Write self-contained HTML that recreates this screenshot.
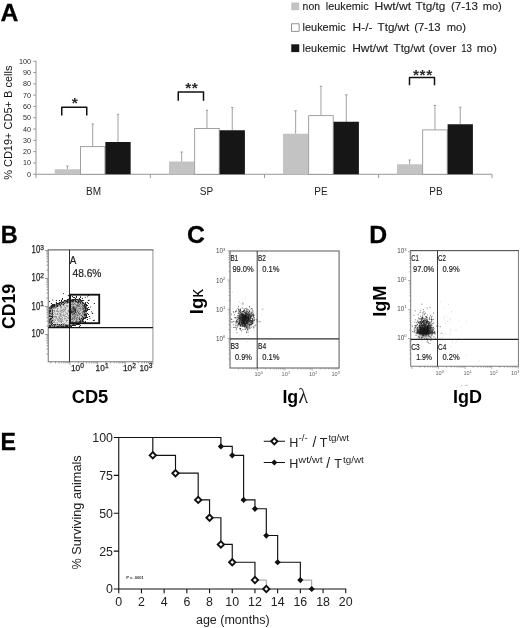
<!DOCTYPE html>
<html><head><meta charset="utf-8"><title>Figure</title>
<style>html,body{margin:0;padding:0;background:#fff}svg{display:block;opacity:0.999}</style>
</head><body>
<svg width="520" height="628" viewBox="0 0 520 628">
<rect width="520" height="628" fill="#fff"/>
<g id="panelA">
<text x="0.5" y="21" font-family="Liberation Sans, sans-serif" font-size="24.8" font-weight="bold" fill="#000" stroke="#000" stroke-width="0.3">A</text>
<path d="M36.0 61 V178 M36.0 174.25 H492" stroke="#969696" stroke-width="1" fill="none"/>
<path d="M33.3 174.25H36.0M33.3 162.95H36.0M33.3 151.65H36.0M33.3 140.35H36.0M33.3 129.05H36.0M33.3 117.75H36.0M33.3 106.45H36.0M33.3 95.15H36.0M33.3 83.85H36.0M33.3 72.55H36.0M33.3 61.25H36.0M150.3 174.25V178M264.5 174.25V178M378.6 174.25V178M492 174.25V178" stroke="#969696" stroke-width="1" fill="none"/>
<text x="31" y="176.75" font-family="Liberation Sans, sans-serif" font-size="7.2" text-anchor="end" fill="#2a2a2a">0</text>
<text x="31" y="165.45" font-family="Liberation Sans, sans-serif" font-size="7.2" text-anchor="end" fill="#2a2a2a">10</text>
<text x="31" y="154.15" font-family="Liberation Sans, sans-serif" font-size="7.2" text-anchor="end" fill="#2a2a2a">20</text>
<text x="31" y="142.85" font-family="Liberation Sans, sans-serif" font-size="7.2" text-anchor="end" fill="#2a2a2a">30</text>
<text x="31" y="131.55" font-family="Liberation Sans, sans-serif" font-size="7.2" text-anchor="end" fill="#2a2a2a">40</text>
<text x="31" y="120.25" font-family="Liberation Sans, sans-serif" font-size="7.2" text-anchor="end" fill="#2a2a2a">50</text>
<text x="31" y="108.95" font-family="Liberation Sans, sans-serif" font-size="7.2" text-anchor="end" fill="#2a2a2a">60</text>
<text x="31" y="97.65" font-family="Liberation Sans, sans-serif" font-size="7.2" text-anchor="end" fill="#2a2a2a">70</text>
<text x="31" y="86.35" font-family="Liberation Sans, sans-serif" font-size="7.2" text-anchor="end" fill="#2a2a2a">80</text>
<text x="31" y="75.05" font-family="Liberation Sans, sans-serif" font-size="7.2" text-anchor="end" fill="#2a2a2a">90</text>
<text x="31" y="63.75" font-family="Liberation Sans, sans-serif" font-size="7.2" text-anchor="end" fill="#2a2a2a">100</text>
<text transform="translate(11.6 122.7) rotate(-90)" font-family="Liberation Sans, sans-serif" font-size="11" text-anchor="middle" fill="#111">% CD19+ CD5+ B cells</text>
<path d="M67.40 169.25V166.0M66.20 166.0H68.60" stroke="#909090" stroke-width="0.85" fill="none"/>
<rect x="54.75" y="169.25" width="25.3" height="5.00" fill="#c3c3c3"/>
<path d="M92.70 146.25V124.0M91.50 124.0H93.90" stroke="#909090" stroke-width="0.85" fill="none"/>
<rect x="80.45" y="146.65" width="24.5" height="27.60" fill="#fff" stroke="#8a8a8a" stroke-width="0.8"/>
<path d="M118.00 142.0V114.25M116.80 114.25H119.20" stroke="#909090" stroke-width="0.85" fill="none"/>
<rect x="105.35" y="142.0" width="25.3" height="32.25" fill="#161616"/>
<path d="M181.65 161.5V152.0M180.45 152.0H182.85" stroke="#909090" stroke-width="0.85" fill="none"/>
<rect x="169.00" y="161.5" width="25.3" height="12.75" fill="#c3c3c3"/>
<path d="M206.95 128.0V110.25M205.75 110.25H208.15" stroke="#909090" stroke-width="0.85" fill="none"/>
<rect x="194.70" y="128.4" width="24.5" height="45.85" fill="#fff" stroke="#8a8a8a" stroke-width="0.8"/>
<path d="M232.25 130.25V107.5M231.05 107.5H233.45" stroke="#909090" stroke-width="0.85" fill="none"/>
<rect x="219.60" y="130.25" width="25.3" height="44.00" fill="#161616"/>
<path d="M295.65 133.75V110.75M294.45 110.75H296.85" stroke="#909090" stroke-width="0.85" fill="none"/>
<rect x="283.00" y="133.75" width="25.3" height="40.50" fill="#c3c3c3"/>
<path d="M320.95 115.25V86.25M319.75 86.25H322.15" stroke="#909090" stroke-width="0.85" fill="none"/>
<rect x="308.70" y="115.65" width="24.5" height="58.60" fill="#fff" stroke="#8a8a8a" stroke-width="0.8"/>
<path d="M346.25 121.75V94.75M345.05 94.75H347.45" stroke="#909090" stroke-width="0.85" fill="none"/>
<rect x="333.60" y="121.75" width="25.3" height="52.50" fill="#161616"/>
<path d="M409.65 164.25V160.0M408.45 160.0H410.85" stroke="#909090" stroke-width="0.85" fill="none"/>
<rect x="397.00" y="164.25" width="25.3" height="10.00" fill="#c3c3c3"/>
<path d="M434.95 129.5V105.5M433.75 105.5H436.15" stroke="#909090" stroke-width="0.85" fill="none"/>
<rect x="422.70" y="129.9" width="24.5" height="44.35" fill="#fff" stroke="#8a8a8a" stroke-width="0.8"/>
<path d="M460.25 124.25V107.25M459.05 107.25H461.45" stroke="#909090" stroke-width="0.85" fill="none"/>
<rect x="447.60" y="124.25" width="25.3" height="50.00" fill="#161616"/>
<path d="M61.75 115.5V107.3H86.75V115.5" stroke="#111" stroke-width="1.5" stroke-linejoin="round" fill="none"/>
<text x="75.15" y="108.4" font-family="Liberation Sans, sans-serif" font-size="15.5" font-weight="bold" letter-spacing="0.6" text-anchor="middle" fill="#2a2a2a">*</text>
<path d="M178.25 100.75V92.1H203.5V100.75" stroke="#111" stroke-width="1.5" stroke-linejoin="round" fill="none"/>
<text x="191.78" y="92.8" font-family="Liberation Sans, sans-serif" font-size="15.5" font-weight="bold" letter-spacing="0.6" text-anchor="middle" fill="#2a2a2a">**</text>
<path d="M409.5 85.25V77.6H434.5V85.25" stroke="#111" stroke-width="1.5" stroke-linejoin="round" fill="none"/>
<text x="422.90" y="79.8" font-family="Liberation Sans, sans-serif" font-size="15.5" font-weight="bold" letter-spacing="0.6" text-anchor="middle" fill="#2a2a2a">***</text>
<text x="93.5" y="195.2" font-family="Liberation Sans, sans-serif" font-size="10" text-anchor="middle" fill="#222">BM</text>
<text x="206.5" y="195.2" font-family="Liberation Sans, sans-serif" font-size="10" text-anchor="middle" fill="#222">SP</text>
<text x="321" y="195.2" font-family="Liberation Sans, sans-serif" font-size="10" text-anchor="middle" fill="#222">PE</text>
<text x="436" y="195.2" font-family="Liberation Sans, sans-serif" font-size="10" text-anchor="middle" fill="#222">PB</text>
<rect x="291.25" y="2.5" width="8" height="7.7" fill="#c3c3c3"/>
<rect x="291.6" y="23.8" width="7.5" height="7.5" fill="#fff" stroke="#777" stroke-width="0.8"/>
<rect x="291.25" y="44.3" width="8" height="7.8" fill="#161616"/>
<text x="302.6" y="10.2" font-family="Liberation Sans, sans-serif" font-size="10.6" fill="#222" stroke="#222" stroke-width="0.12" textLength="17.4" lengthAdjust="spacingAndGlyphs">non</text>
<text x="325.8" y="10.2" font-family="Liberation Sans, sans-serif" font-size="10.6" fill="#222" stroke="#222" stroke-width="0.12" textLength="42.8" lengthAdjust="spacingAndGlyphs">leukemic</text>
<text x="374.6" y="10.2" font-family="Liberation Sans, sans-serif" font-size="10.6" fill="#222" stroke="#222" stroke-width="0.12" textLength="36.6" lengthAdjust="spacingAndGlyphs">Hwt/wt</text>
<text x="415.4" y="10.2" font-family="Liberation Sans, sans-serif" font-size="10.6" fill="#222" stroke="#222" stroke-width="0.12" textLength="30.0" lengthAdjust="spacingAndGlyphs">Ttg/tg</text>
<text x="450.9" y="10.2" font-family="Liberation Sans, sans-serif" font-size="10.6" fill="#222" stroke="#222" stroke-width="0.12" textLength="26.9" lengthAdjust="spacingAndGlyphs">(7-13</text>
<text x="482.7" y="10.2" font-family="Liberation Sans, sans-serif" font-size="10.6" fill="#222" stroke="#222" stroke-width="0.12" textLength="19.1" lengthAdjust="spacingAndGlyphs">mo)</text>
<text x="302.6" y="31.2" font-family="Liberation Sans, sans-serif" font-size="10.6" fill="#222" stroke="#222" stroke-width="0.12" textLength="43.0" lengthAdjust="spacingAndGlyphs">leukemic</text>
<text x="352.6" y="31.2" font-family="Liberation Sans, sans-serif" font-size="10.6" fill="#222" stroke="#222" stroke-width="0.12" textLength="19.8" lengthAdjust="spacingAndGlyphs">H-/-</text>
<text x="377.6" y="31.2" font-family="Liberation Sans, sans-serif" font-size="10.6" fill="#222" stroke="#222" stroke-width="0.12" textLength="31.6" lengthAdjust="spacingAndGlyphs">Ttg/wt</text>
<text x="414.3" y="31.2" font-family="Liberation Sans, sans-serif" font-size="10.6" fill="#222" stroke="#222" stroke-width="0.12" textLength="26.3" lengthAdjust="spacingAndGlyphs">(7-13</text>
<text x="446.7" y="31.2" font-family="Liberation Sans, sans-serif" font-size="10.6" fill="#222" stroke="#222" stroke-width="0.12" textLength="19.3" lengthAdjust="spacingAndGlyphs">mo)</text>
<text x="302.6" y="52.0" font-family="Liberation Sans, sans-serif" font-size="10.6" fill="#222" stroke="#222" stroke-width="0.12" textLength="43.0" lengthAdjust="spacingAndGlyphs">leukemic</text>
<text x="352.2" y="52.0" font-family="Liberation Sans, sans-serif" font-size="10.6" fill="#222" stroke="#222" stroke-width="0.12" textLength="36.0" lengthAdjust="spacingAndGlyphs">Hwt/wt</text>
<text x="393.6" y="52.0" font-family="Liberation Sans, sans-serif" font-size="10.6" fill="#222" stroke="#222" stroke-width="0.12" textLength="31.4" lengthAdjust="spacingAndGlyphs">Ttg/wt</text>
<text x="428.8" y="52.0" font-family="Liberation Sans, sans-serif" font-size="10.6" fill="#222" stroke="#222" stroke-width="0.12" textLength="27.4" lengthAdjust="spacingAndGlyphs">(over</text>
<text x="461.2" y="52.0" font-family="Liberation Sans, sans-serif" font-size="10.6" fill="#222" stroke="#222" stroke-width="0.12" textLength="10.8" lengthAdjust="spacingAndGlyphs">13</text>
<text x="476.8" y="52.0" font-family="Liberation Sans, sans-serif" font-size="10.6" fill="#222" stroke="#222" stroke-width="0.12" textLength="20.2" lengthAdjust="spacingAndGlyphs">mo)</text>
</g>
<g id="panelB">
<text x="0.8" y="243.4" font-family="Liberation Sans, sans-serif" font-size="24.8" font-weight="bold" fill="#000" stroke="#000" stroke-width="0.3" textLength="17" lengthAdjust="spacingAndGlyphs">B</text>
<path d="M152.9 249.9V361.75" stroke="#a4a4a4" stroke-width="1.2" fill="none"/>
<path d="M48.25 249.9V361.75H152.9" stroke="#7d7d7d" stroke-width="1.1" fill="none"/>
<path d="M47.75 249.9H153.5" stroke="#6c6c6c" stroke-width="1.3" fill="none"/>
<path d="M48.25 354.07h-1.8M48.25 349.14h-1.8M48.25 345.64h-1.8M48.25 342.93h-1.8M48.25 340.71h-1.8M48.25 338.84h-1.8M48.25 337.21h-1.8M48.25 335.78h-1.8M48.25 334.50h-3.2M48.25 326.07h-1.8M48.25 321.14h-1.8M48.25 317.64h-1.8M48.25 314.93h-1.8M48.25 312.71h-1.8M48.25 310.84h-1.8M48.25 309.21h-1.8M48.25 307.78h-1.8M48.25 306.50h-3.2M48.25 298.07h-1.8M48.25 293.14h-1.8M48.25 289.64h-1.8M48.25 286.93h-1.8M48.25 284.71h-1.8M48.25 282.84h-1.8M48.25 281.21h-1.8M48.25 279.78h-1.8M48.25 278.50h-3.2M48.25 270.07h-1.8M48.25 265.14h-1.8M48.25 261.64h-1.8M48.25 258.93h-1.8M48.25 256.71h-1.8M48.25 254.84h-1.8M48.25 253.21h-1.8M48.25 251.78h-1.8M48.25 250.50h-3.2M50.71 361.75v1.6M55.57 361.75v1.6M59.02 361.75v1.6M61.69 361.75v1.6M63.88 361.75v1.6M65.72 361.75v1.6M67.33 361.75v1.6M68.74 361.75v1.6M70.00 361.75v2.9M78.31 361.75v1.6M83.17 361.75v1.6M86.62 361.75v1.6M89.29 361.75v1.6M91.48 361.75v1.6M93.32 361.75v1.6M94.93 361.75v1.6M96.34 361.75v1.6M97.60 361.75v2.9M105.91 361.75v1.6M110.77 361.75v1.6M114.22 361.75v1.6M116.89 361.75v1.6M119.08 361.75v1.6M120.92 361.75v1.6M122.53 361.75v1.6M123.94 361.75v1.6M125.20 361.75v2.9M133.51 361.75v1.6M138.37 361.75v1.6M141.82 361.75v1.6M144.49 361.75v1.6M146.68 361.75v1.6M148.52 361.75v1.6M150.13 361.75v1.6M151.54 361.75v1.6M152.80 361.75v2.9" stroke="#7d7d7d" stroke-width="0.8" fill="none"/>
<defs><filter id="softB" x="-5%" y="-5%" width="110%" height="110%"><feGaussianBlur stdDeviation="0.4"/></filter><clipPath id="clipB"><rect x="48.8" y="285" width="60" height="42.4"/></clipPath></defs>
<g clip-path="url(#clipB)"><g filter="url(#softB)">
<path d="M68.9 303.5h1.0M64.9 304.5h1.0M66.9 304.5h1.0M67.9 304.5h1.0M64.9 306.5h1.0M68.9 306.5h1.0M56.9 307.5h1.0M65.9 307.5h1.0M55.9 308.5h1.0M58.9 308.5h1.0M52.9 309.5h1.0M55.9 309.5h1.0M57.9 309.5h1.0M65.9 309.5h1.0M66.9 309.5h1.0M54.9 310.5h1.0M57.9 310.5h1.0M52.9 311.5h1.0M65.9 311.5h1.0M53.9 312.5h1.0M55.9 312.5h1.0M63.9 312.5h1.0M57.9 313.5h1.0M67.9 313.5h1.0M53.9 314.5h1.0M65.9 314.5h1.0M67.9 314.5h1.0M53.9 315.5h1.0M56.9 315.5h1.0M57.9 315.5h1.0M64.9 315.5h1.0M65.9 315.5h1.0M56.9 316.5h1.0M61.9 316.5h1.0M66.9 316.5h1.0M68.9 316.5h1.0M60.9 317.5h1.0M62.9 317.5h1.0M64.9 317.5h1.0M65.9 317.5h1.0M53.9 318.5h1.0M61.9 318.5h1.0M62.9 319.5h1.0M64.9 319.5h1.0M67.9 319.5h1.0M55.9 320.5h1.0M62.9 320.5h1.0M68.9 320.5h1.0M54.9 321.5h1.0M55.9 321.5h1.0M56.9 321.5h1.0M63.9 321.5h1.0M64.9 321.5h1.0M66.9 321.5h1.0M57.9 322.5h1.0M61.9 322.5h1.0M63.9 322.5h1.0M65.9 322.5h1.0M52.9 323.5h1.0M55.9 323.5h1.0M58.9 323.5h1.0M59.9 323.5h1.0M60.9 323.5h1.0M64.9 323.5h1.0M66.9 323.5h1.0M68.9 323.5h1.0" stroke="#ebebeb" stroke-width="1.0" fill="none"/>
<path d="M67.9 303.5h1.0M68.9 304.5h1.0M60.9 305.5h1.0M64.9 305.5h1.0M68.9 305.5h1.0M58.9 306.5h1.0M61.9 306.5h1.0M62.9 306.5h1.0M57.9 307.5h1.0M58.9 307.5h1.0M61.9 307.5h1.0M62.9 307.5h1.0M66.9 307.5h1.0M68.9 307.5h1.0M61.9 308.5h1.0M63.9 308.5h1.0M65.9 308.5h1.0M66.9 308.5h1.0M67.9 308.5h1.0M68.9 308.5h1.0M54.9 309.5h1.0M58.9 309.5h1.0M58.9 310.5h1.0M62.9 310.5h1.0M64.9 310.5h1.0M65.9 310.5h1.0M66.9 310.5h1.0M54.9 311.5h1.0M56.9 312.5h1.0M58.9 312.5h1.0M52.9 313.5h1.0M55.9 313.5h1.0M60.9 313.5h1.0M61.9 313.5h1.0M63.9 313.5h1.0M64.9 313.5h1.0M61.9 314.5h1.0M63.9 314.5h1.0M55.9 315.5h1.0M66.9 315.5h1.0M68.9 315.5h1.0M62.9 316.5h1.0M52.9 317.5h1.0M56.9 317.5h1.0M59.9 317.5h1.0M54.9 318.5h1.0M62.9 318.5h1.0M66.9 318.5h1.0M55.9 319.5h1.0M58.9 319.5h1.0M66.9 319.5h1.0M53.9 320.5h1.0M63.9 320.5h1.0M64.9 320.5h1.0M67.9 320.5h1.0M52.9 321.5h1.0M67.9 321.5h1.0M58.9 322.5h1.0M62.9 322.5h1.0M66.9 322.5h1.0M53.9 323.5h1.0M54.9 323.5h1.0M57.9 323.5h1.0M67.9 323.5h1.0" stroke="#d7d7d7" stroke-width="1.0" fill="none"/>
<path d="M70.9 303.5h1.0M72.9 303.5h1.0M75.9 303.5h1.0M78.9 303.5h1.0M80.9 305.5h1.0M77.9 307.5h1.0M78.9 307.5h1.0M80.9 307.5h1.0M76.9 308.5h1.0M78.9 309.5h1.0M80.9 310.5h1.0M81.9 310.5h1.0M79.9 311.5h1.0M80.9 311.5h1.0M79.9 312.5h1.0M80.9 313.5h1.0M77.9 314.5h1.0M80.9 314.5h1.0M78.9 315.5h1.0M77.9 316.5h1.0M79.9 316.5h1.0M80.9 316.5h1.0M69.9 317.5h1.0M70.9 317.5h1.0M77.9 317.5h1.0M79.9 317.5h1.0M76.9 318.5h1.0M74.9 319.5h1.0M77.9 319.5h1.0M71.9 320.5h1.0M73.9 320.5h1.0M73.9 321.5h1.0M69.9 322.5h1.0" stroke="#c8c8c8" stroke-width="1.0" fill="none"/>
<path d="M63.9 304.5h1.0M65.9 304.5h1.0M61.9 305.5h1.0M63.9 305.5h1.0M67.9 305.5h1.0M67.9 306.5h1.0M63.9 307.5h1.0M67.9 307.5h1.0M57.9 308.5h1.0M59.9 308.5h1.0M60.9 308.5h1.0M62.9 308.5h1.0M53.9 309.5h1.0M59.9 309.5h1.0M60.9 309.5h1.0M61.9 309.5h1.0M67.9 309.5h1.0M58.9 311.5h1.0M61.9 311.5h1.0M63.9 311.5h1.0M64.9 311.5h1.0M66.9 311.5h1.0M54.9 312.5h1.0M57.9 312.5h1.0M59.9 312.5h1.0M62.9 312.5h1.0M65.9 312.5h1.0M66.9 312.5h1.0M67.9 312.5h1.0M68.9 312.5h1.0M54.9 313.5h1.0M62.9 313.5h1.0M55.9 314.5h1.0M58.9 314.5h1.0M68.9 314.5h1.0M52.9 315.5h1.0M54.9 315.5h1.0M60.9 315.5h1.0M58.9 316.5h1.0M63.9 316.5h1.0M67.9 316.5h1.0M57.9 317.5h1.0M63.9 317.5h1.0M68.9 317.5h1.0M55.9 318.5h1.0M57.9 318.5h1.0M65.9 318.5h1.0M68.9 318.5h1.0M53.9 319.5h1.0M60.9 319.5h1.0M65.9 319.5h1.0M59.9 320.5h1.0M58.9 321.5h1.0M61.9 321.5h1.0M54.9 322.5h1.0M56.9 322.5h1.0M64.9 322.5h1.0M67.9 322.5h1.0M68.9 322.5h1.0M62.9 323.5h1.0M65.9 323.5h1.0" stroke="#c3c3c3" stroke-width="1.0" fill="none"/>
<path d="M70.9 305.5h1.0M72.9 305.5h1.0M73.9 305.5h1.0M74.9 305.5h1.0M74.9 306.5h1.0M70.9 307.5h1.0M69.9 313.5h1.0M74.9 313.5h1.0M70.9 314.5h1.0M70.9 315.5h1.0M72.9 315.5h1.0M71.9 316.5h1.0" stroke="#bebebe" stroke-width="1.0" fill="none"/>
<path d="M73.9 301.5h1.0M65.9 302.5h1.0M73.9 302.5h1.0M80.9 302.5h1.0M64.9 303.5h1.0M74.9 303.5h1.0M80.9 303.5h1.0M75.9 304.5h1.0M79.9 304.5h1.0M82.9 304.5h1.0M58.9 305.5h1.0M69.9 305.5h1.0M57.9 306.5h1.0M79.9 306.5h1.0M76.9 307.5h1.0M51.9 308.5h1.0M80.9 308.5h1.0M77.9 309.5h1.0M80.9 309.5h1.0M50.9 310.5h1.0M78.9 310.5h1.0M50.9 311.5h1.0M77.9 311.5h1.0M50.9 312.5h1.0M76.9 312.5h1.0M78.9 312.5h1.0M76.9 313.5h1.0M49.9 314.5h1.0M50.9 315.5h1.0M75.9 315.5h1.0M81.9 315.5h1.0M82.9 315.5h1.0M69.9 316.5h1.0M75.9 316.5h1.0M76.9 316.5h1.0M82.9 316.5h1.0M48.9 317.5h1.0M49.9 317.5h1.0M72.9 317.5h1.0M74.9 317.5h1.0M80.9 317.5h1.0M48.9 318.5h1.0M51.9 318.5h1.0M70.9 318.5h1.0M79.9 318.5h1.0M51.9 319.5h1.0M72.9 319.5h1.0M70.9 320.5h1.0M74.9 320.5h1.0M76.9 320.5h1.0M77.9 320.5h1.0M78.9 320.5h1.0M69.9 321.5h1.0M77.9 321.5h1.0M70.9 322.5h1.0M76.9 322.5h1.0M69.9 323.5h1.0M72.9 323.5h1.0M73.9 323.5h1.0M48.9 324.5h1.0M51.9 324.5h1.0M55.9 324.5h1.0M59.9 324.5h1.0M61.9 324.5h1.0M63.9 324.5h1.0M66.9 324.5h1.0M70.9 324.5h1.0M56.9 325.5h1.0" stroke="#afafaf" stroke-width="1.0" fill="none"/>
<path d="M66.9 305.5h1.0M63.9 306.5h1.0M65.9 306.5h1.0M59.9 307.5h1.0M53.9 308.5h1.0M54.9 308.5h1.0M63.9 309.5h1.0M55.9 310.5h1.0M56.9 310.5h1.0M59.9 310.5h1.0M55.9 311.5h1.0M59.9 311.5h1.0M60.9 311.5h1.0M52.9 312.5h1.0M60.9 312.5h1.0M61.9 312.5h1.0M64.9 312.5h1.0M53.9 313.5h1.0M58.9 313.5h1.0M65.9 313.5h1.0M54.9 314.5h1.0M57.9 314.5h1.0M60.9 314.5h1.0M62.9 314.5h1.0M64.9 314.5h1.0M58.9 315.5h1.0M61.9 315.5h1.0M57.9 316.5h1.0M59.9 316.5h1.0M53.9 317.5h1.0M54.9 317.5h1.0M66.9 317.5h1.0M56.9 318.5h1.0M63.9 318.5h1.0M52.9 319.5h1.0M54.9 319.5h1.0M56.9 319.5h1.0M63.9 319.5h1.0M68.9 319.5h1.0M56.9 320.5h1.0M57.9 320.5h1.0M58.9 320.5h1.0M61.9 320.5h1.0M62.9 321.5h1.0M68.9 321.5h1.0M53.9 322.5h1.0M55.9 322.5h1.0M59.9 322.5h1.0M56.9 323.5h1.0" stroke="#aaaaaa" stroke-width="1.0" fill="none"/>
<path d="M73.9 304.5h1.0M71.9 305.5h1.0M69.9 306.5h1.0M69.9 309.5h1.0M75.9 309.5h1.0M69.9 310.5h1.0M75.9 311.5h1.0" stroke="#a0a0a0" stroke-width="1.0" fill="none"/>
<path d="M74.9 302.5h1.0M75.9 302.5h1.0M76.9 303.5h1.0M69.9 304.5h1.0M77.9 304.5h1.0M78.9 305.5h1.0M79.9 305.5h1.0M81.9 306.5h1.0M79.9 307.5h1.0M76.9 309.5h1.0M79.9 309.5h1.0M77.9 310.5h1.0M80.9 312.5h1.0M79.9 314.5h1.0M81.9 314.5h1.0M79.9 315.5h1.0M70.9 316.5h1.0M78.9 316.5h1.0M70.9 321.5h1.0M72.9 321.5h1.0" stroke="#969696" stroke-width="1.0" fill="none"/>
<path d="M68.9 299.5h1.0M69.9 299.5h1.0M70.9 299.5h1.0M75.9 300.5h1.0M76.9 300.5h1.0M61.9 301.5h1.0M68.9 301.5h1.0M76.9 301.5h1.0M81.9 301.5h1.0M63.9 302.5h1.0M68.9 302.5h1.0M70.9 302.5h1.0M71.9 302.5h1.0M82.9 302.5h1.0M59.9 303.5h1.0M61.9 303.5h1.0M62.9 303.5h1.0M65.9 303.5h1.0M66.9 303.5h1.0M83.9 303.5h1.0M54.9 304.5h1.0M61.9 304.5h1.0M80.9 304.5h1.0M62.9 305.5h1.0M65.9 305.5h1.0M54.9 306.5h1.0M59.9 306.5h1.0M60.9 306.5h1.0M66.9 306.5h1.0M55.9 307.5h1.0M60.9 307.5h1.0M64.9 307.5h1.0M82.9 307.5h1.0M56.9 308.5h1.0M64.9 308.5h1.0M48.9 309.5h1.0M50.9 309.5h1.0M56.9 309.5h1.0M62.9 309.5h1.0M64.9 309.5h1.0M68.9 309.5h1.0M83.9 309.5h1.0M85.9 309.5h1.0M52.9 310.5h1.0M53.9 310.5h1.0M60.9 310.5h1.0M61.9 310.5h1.0M63.9 310.5h1.0M67.9 310.5h1.0M53.9 311.5h1.0M56.9 311.5h1.0M57.9 311.5h1.0M62.9 311.5h1.0M67.9 311.5h1.0M68.9 311.5h1.0M49.9 312.5h1.0M82.9 312.5h1.0M84.9 312.5h1.0M85.9 312.5h1.0M50.9 313.5h1.0M56.9 313.5h1.0M59.9 313.5h1.0M66.9 313.5h1.0M68.9 313.5h1.0M82.9 313.5h1.0M85.9 313.5h1.0M48.9 314.5h1.0M52.9 314.5h1.0M56.9 314.5h1.0M59.9 314.5h1.0M66.9 314.5h1.0M59.9 315.5h1.0M62.9 315.5h1.0M63.9 315.5h1.0M67.9 315.5h1.0M52.9 316.5h1.0M53.9 316.5h1.0M54.9 316.5h1.0M55.9 316.5h1.0M60.9 316.5h1.0M64.9 316.5h1.0M65.9 316.5h1.0M83.9 316.5h1.0M50.9 317.5h1.0M55.9 317.5h1.0M58.9 317.5h1.0M61.9 317.5h1.0M67.9 317.5h1.0M52.9 318.5h1.0M58.9 318.5h1.0M59.9 318.5h1.0M60.9 318.5h1.0M64.9 318.5h1.0M67.9 318.5h1.0M50.9 319.5h1.0M57.9 319.5h1.0M59.9 319.5h1.0M61.9 319.5h1.0M80.9 319.5h1.0M50.9 320.5h1.0M52.9 320.5h1.0M54.9 320.5h1.0M60.9 320.5h1.0M65.9 320.5h1.0M66.9 320.5h1.0M80.9 320.5h1.0M82.9 320.5h1.0M49.9 321.5h1.0M51.9 321.5h1.0M53.9 321.5h1.0M57.9 321.5h1.0M59.9 321.5h1.0M60.9 321.5h1.0M65.9 321.5h1.0M51.9 322.5h1.0M52.9 322.5h1.0M60.9 322.5h1.0M72.9 322.5h1.0M75.9 322.5h1.0M78.9 322.5h1.0M48.9 323.5h1.0M61.9 323.5h1.0M63.9 323.5h1.0M76.9 323.5h1.0M78.9 323.5h1.0M49.9 324.5h1.0M57.9 324.5h1.0M65.9 324.5h1.0M67.9 324.5h1.0M69.9 324.5h1.0M52.9 325.5h1.0M55.9 325.5h1.0M57.9 325.5h1.0M61.9 325.5h1.0M63.9 325.5h1.0M68.9 325.5h1.0M50.9 326.5h1.0M52.9 326.5h1.0M54.9 326.5h1.0" stroke="#8c8c8c" stroke-width="1.0" fill="none"/>
<path d="M71.9 304.5h1.0M70.9 306.5h1.0M71.9 306.5h1.0M73.9 306.5h1.0M75.9 306.5h1.0M69.9 307.5h1.0M74.9 307.5h1.0M75.9 310.5h1.0M76.9 310.5h1.0M75.9 313.5h1.0M69.9 314.5h1.0M73.9 314.5h1.0M75.9 314.5h1.0M73.9 315.5h1.0M74.9 315.5h1.0M72.9 316.5h1.0" stroke="#828282" stroke-width="1.0" fill="none"/>
<path d="M72.9 302.5h1.0M71.9 303.5h1.0M70.9 304.5h1.0M74.9 304.5h1.0M76.9 304.5h1.0M76.9 306.5h1.0M80.9 306.5h1.0M71.9 307.5h1.0M70.9 308.5h1.0M71.9 308.5h1.0M77.9 308.5h1.0M81.9 308.5h1.0M70.9 309.5h1.0M82.9 309.5h1.0M71.9 310.5h1.0M79.9 310.5h1.0M78.9 311.5h1.0M81.9 311.5h1.0M73.9 312.5h1.0M81.9 312.5h1.0M71.9 313.5h1.0M77.9 313.5h1.0M79.9 313.5h1.0M81.9 313.5h1.0M76.9 314.5h1.0M77.9 315.5h1.0M74.9 316.5h1.0M71.9 317.5h1.0M75.9 317.5h1.0M71.9 318.5h1.0M73.9 318.5h1.0M74.9 318.5h1.0M75.9 318.5h1.0M77.9 318.5h1.0M69.9 319.5h1.0M70.9 319.5h1.0M73.9 319.5h1.0M75.9 319.5h1.0M76.9 319.5h1.0M72.9 320.5h1.0M74.9 321.5h1.0" stroke="#787878" stroke-width="1.0" fill="none"/>
<path d="M73.9 300.5h1.0M78.9 302.5h1.0M59.9 304.5h1.0M60.9 304.5h1.0M72.9 304.5h1.0M81.9 304.5h1.0M55.9 305.5h1.0M57.9 305.5h1.0M81.9 305.5h1.0M82.9 305.5h1.0M82.9 306.5h1.0M52.9 307.5h1.0M53.9 307.5h1.0M54.9 307.5h1.0M75.9 307.5h1.0M52.9 308.5h1.0M69.9 308.5h1.0M75.9 308.5h1.0M83.9 308.5h1.0M49.9 309.5h1.0M51.9 309.5h1.0M68.9 310.5h1.0M69.9 311.5h1.0M69.9 312.5h1.0M75.9 312.5h1.0M70.9 313.5h1.0M83.9 313.5h1.0M50.9 314.5h1.0M51.9 314.5h1.0M71.9 314.5h1.0M74.9 314.5h1.0M82.9 314.5h1.0M49.9 315.5h1.0M71.9 315.5h1.0M73.9 316.5h1.0M81.9 317.5h1.0M81.9 318.5h1.0M79.9 319.5h1.0M49.9 320.5h1.0M76.9 321.5h1.0M49.9 322.5h1.0M73.9 322.5h1.0M74.9 322.5h1.0M49.9 323.5h1.0M50.9 323.5h1.0M64.9 324.5h1.0M71.9 324.5h1.0M50.9 325.5h1.0M54.9 325.5h1.0M60.9 325.5h1.0M62.9 325.5h1.0M67.9 325.5h1.0" stroke="#646464" stroke-width="1.0" fill="none"/>
<path d="M77.9 299.5h1.0M65.9 300.5h1.0M67.9 300.5h1.0M78.9 300.5h1.0M62.9 301.5h1.0M63.9 301.5h1.0M64.9 301.5h1.0M67.9 301.5h1.0M79.9 301.5h1.0M60.9 302.5h1.0M69.9 303.5h1.0M73.9 303.5h1.0M77.9 303.5h1.0M56.9 304.5h1.0M57.9 304.5h1.0M78.9 304.5h1.0M54.9 305.5h1.0M75.9 305.5h1.0M76.9 305.5h1.0M77.9 305.5h1.0M84.9 305.5h1.0M49.9 306.5h1.0M77.9 306.5h1.0M78.9 306.5h1.0M85.9 306.5h1.0M49.9 307.5h1.0M73.9 307.5h1.0M81.9 307.5h1.0M85.9 307.5h1.0M74.9 308.5h1.0M78.9 308.5h1.0M79.9 308.5h1.0M71.9 309.5h1.0M81.9 309.5h1.0M70.9 310.5h1.0M72.9 310.5h1.0M82.9 310.5h1.0M73.9 311.5h1.0M76.9 311.5h1.0M72.9 312.5h1.0M77.9 312.5h1.0M72.9 313.5h1.0M78.9 313.5h1.0M84.9 313.5h1.0M72.9 314.5h1.0M78.9 314.5h1.0M69.9 315.5h1.0M76.9 315.5h1.0M80.9 315.5h1.0M84.9 316.5h1.0M73.9 317.5h1.0M76.9 317.5h1.0M78.9 317.5h1.0M83.9 317.5h1.0M69.9 318.5h1.0M72.9 318.5h1.0M78.9 318.5h1.0M71.9 319.5h1.0M69.9 320.5h1.0M75.9 320.5h1.0M71.9 321.5h1.0M80.9 321.5h1.0M71.9 322.5h1.0M75.9 323.5h1.0M77.9 323.5h1.0M73.9 324.5h1.0M74.9 324.5h1.0M70.9 325.5h1.0M51.9 326.5h1.0M55.9 326.5h1.0M58.9 326.5h1.0M59.9 326.5h1.0M63.9 326.5h1.0M67.9 326.5h1.0" stroke="#5a5a5a" stroke-width="1.0" fill="none"/>
<path d="M72.9 306.5h1.0M73.9 308.5h1.0M72.9 309.5h1.0M73.9 310.5h1.0M71.9 311.5h1.0M71.9 312.5h1.0" stroke="#3c3c3c" stroke-width="1.0" fill="none"/>
<path d="M70.9 301.5h1.0M78.9 301.5h1.0M64.9 302.5h1.0M67.9 302.5h1.0M69.9 302.5h1.0M77.9 302.5h1.0M63.9 303.5h1.0M79.9 303.5h1.0M81.9 303.5h1.0M55.9 306.5h1.0M48.9 307.5h1.0M51.9 307.5h1.0M83.9 307.5h1.0M48.9 308.5h1.0M49.9 308.5h1.0M82.9 308.5h1.0M48.9 310.5h1.0M51.9 310.5h1.0M83.9 310.5h1.0M51.9 311.5h1.0M82.9 311.5h1.0M83.9 311.5h1.0M48.9 312.5h1.0M51.9 312.5h1.0M83.9 312.5h1.0M48.9 313.5h1.0M49.9 313.5h1.0M48.9 315.5h1.0M51.9 315.5h1.0M49.9 316.5h1.0M48.9 319.5h1.0M48.9 320.5h1.0M48.9 321.5h1.0M75.9 321.5h1.0M70.9 323.5h1.0M52.9 324.5h1.0M53.9 324.5h1.0M56.9 324.5h1.0M58.9 324.5h1.0M62.9 324.5h1.0M48.9 325.5h1.0M49.9 325.5h1.0M51.9 325.5h1.0M53.9 325.5h1.0M58.9 325.5h1.0M59.9 325.5h1.0M64.9 325.5h1.0" stroke="#323232" stroke-width="1.0" fill="none"/>
<path d="M72.9 307.5h1.0M72.9 308.5h1.0M73.9 309.5h1.0M74.9 309.5h1.0M74.9 310.5h1.0M70.9 311.5h1.0M72.9 311.5h1.0M74.9 311.5h1.0M70.9 312.5h1.0M74.9 312.5h1.0M73.9 313.5h1.0" stroke="#1e1e1e" stroke-width="1.0" fill="none"/>
<path d="M67.9 295.5h1.0M87.9 295.5h1.0M87.9 300.5h1.0M48.9 301.5h1.0M93.9 303.5h1.0M91.9 313.5h1.0M88.9 316.5h1.0M92.9 320.5h1.0M84.9 321.5h1.0" stroke="#141414" stroke-width="1.0" fill="none"/>
<path d="M74.9 298.5h1.0M71.9 299.5h1.0M72.9 299.5h1.0M73.9 299.5h1.0M74.9 299.5h1.0M75.9 299.5h1.0M76.9 299.5h1.0M78.9 299.5h1.0M64.9 300.5h1.0M66.9 300.5h1.0M68.9 300.5h1.0M69.9 300.5h1.0M70.9 300.5h1.0M71.9 300.5h1.0M72.9 300.5h1.0M74.9 300.5h1.0M77.9 300.5h1.0M79.9 300.5h1.0M80.9 300.5h1.0M65.9 301.5h1.0M66.9 301.5h1.0M69.9 301.5h1.0M71.9 301.5h1.0M72.9 301.5h1.0M74.9 301.5h1.0M75.9 301.5h1.0M77.9 301.5h1.0M80.9 301.5h1.0M58.9 302.5h1.0M59.9 302.5h1.0M61.9 302.5h1.0M62.9 302.5h1.0M66.9 302.5h1.0M76.9 302.5h1.0M79.9 302.5h1.0M81.9 302.5h1.0M55.9 303.5h1.0M56.9 303.5h1.0M57.9 303.5h1.0M58.9 303.5h1.0M60.9 303.5h1.0M82.9 303.5h1.0M84.9 303.5h1.0M53.9 304.5h1.0M55.9 304.5h1.0M58.9 304.5h1.0M62.9 304.5h1.0M83.9 304.5h1.0M84.9 304.5h1.0M51.9 305.5h1.0M52.9 305.5h1.0M53.9 305.5h1.0M56.9 305.5h1.0M59.9 305.5h1.0M83.9 305.5h1.0M50.9 306.5h1.0M51.9 306.5h1.0M52.9 306.5h1.0M53.9 306.5h1.0M56.9 306.5h1.0M83.9 306.5h1.0M84.9 306.5h1.0M50.9 307.5h1.0M84.9 307.5h1.0M50.9 308.5h1.0M84.9 308.5h1.0M85.9 308.5h1.0M84.9 309.5h1.0M49.9 310.5h1.0M84.9 310.5h1.0M85.9 310.5h1.0M48.9 311.5h1.0M49.9 311.5h1.0M84.9 311.5h1.0M85.9 311.5h1.0M51.9 313.5h1.0M83.9 314.5h1.0M84.9 314.5h1.0M85.9 314.5h1.0M83.9 315.5h1.0M84.9 315.5h1.0M85.9 315.5h1.0M48.9 316.5h1.0M50.9 316.5h1.0M51.9 316.5h1.0M81.9 316.5h1.0M51.9 317.5h1.0M82.9 317.5h1.0M84.9 317.5h1.0M49.9 318.5h1.0M50.9 318.5h1.0M80.9 318.5h1.0M82.9 318.5h1.0M83.9 318.5h1.0M49.9 319.5h1.0M78.9 319.5h1.0M81.9 319.5h1.0M82.9 319.5h1.0M51.9 320.5h1.0M79.9 320.5h1.0M81.9 320.5h1.0M50.9 321.5h1.0M78.9 321.5h1.0M79.9 321.5h1.0M81.9 321.5h1.0M48.9 322.5h1.0M50.9 322.5h1.0M77.9 322.5h1.0M79.9 322.5h1.0M51.9 323.5h1.0M71.9 323.5h1.0M74.9 323.5h1.0M50.9 324.5h1.0M54.9 324.5h1.0M60.9 324.5h1.0M68.9 324.5h1.0M72.9 324.5h1.0M75.9 324.5h1.0M76.9 324.5h1.0M65.9 325.5h1.0M66.9 325.5h1.0M69.9 325.5h1.0M71.9 325.5h1.0M72.9 325.5h1.0M73.9 325.5h1.0M74.9 325.5h1.0M48.9 326.5h1.0M49.9 326.5h1.0M53.9 326.5h1.0M56.9 326.5h1.0M57.9 326.5h1.0M60.9 326.5h1.0M61.9 326.5h1.0M62.9 326.5h1.0M64.9 326.5h1.0M65.9 326.5h1.0M66.9 326.5h1.0M68.9 326.5h1.0M69.9 326.5h1.0M70.9 326.5h1.0" stroke="#0f0f0f" stroke-width="1.0" fill="none"/>
<path d="M68.9 296.5h1.0M71.9 296.5h1.0M75.9 296.5h1.0M72.9 297.5h1.0M73.9 297.5h1.0M75.9 297.5h1.0M79.9 297.5h1.0M61.9 298.5h1.0M68.9 298.5h1.0M78.9 298.5h1.0M81.9 298.5h1.0M61.9 299.5h1.0M66.9 299.5h1.0M67.9 299.5h1.0M79.9 299.5h1.0M55.9 300.5h1.0M58.9 300.5h1.0M60.9 300.5h1.0M63.9 300.5h1.0M81.9 300.5h1.0M82.9 300.5h1.0M60.9 301.5h1.0M55.9 302.5h1.0M84.9 302.5h1.0M86.9 302.5h1.0M50.9 303.5h1.0M87.9 303.5h1.0M51.9 304.5h1.0M52.9 304.5h1.0M85.9 304.5h1.0M50.9 305.5h1.0M85.9 305.5h1.0M86.9 305.5h1.0M87.9 307.5h1.0M86.9 308.5h1.0M86.9 309.5h1.0M87.9 309.5h1.0M88.9 309.5h1.0M86.9 310.5h1.0M86.9 313.5h1.0M87.9 314.5h1.0M85.9 316.5h1.0M85.9 317.5h1.0M86.9 317.5h1.0M84.9 318.5h1.0M86.9 319.5h1.0M82.9 321.5h1.0M83.9 322.5h1.0M84.9 322.5h1.0M77.9 324.5h1.0M78.9 324.5h1.0M79.9 325.5h1.0M78.9 326.5h1.0M49.9 327.5h1.0M53.9 327.5h1.0M56.9 327.5h1.0M59.9 327.5h1.0M61.9 327.5h1.0M63.9 327.5h1.0M64.9 327.5h1.0M68.9 327.5h1.0M71.9 327.5h1.0M73.9 327.5h1.0" stroke="#0a0a0a" stroke-width="1.0" fill="none"/>
</g></g>
<path d="M92.3 313.2h0.9M91.0 311.8h0.9M94.0 320.3h0.9M89.5 318.3h0.9M87.2 296.8h0.9M84.8 297.4h0.9M80.2 296.6h0.9M63.0 293.6h0.9M52.3 300.0h0.9M88.8 300.2h0.9M90.2 307.0h0.9" stroke="#111" stroke-width="0.9" fill="none" opacity="1.0"/>
<path d="M69.5 249.9V361.75" stroke="#1a1a1a" stroke-width="0.9" fill="none"/>
<path d="M48.25 327.6H152.9" stroke="#111" stroke-width="1.3" fill="none"/>
<rect x="70.1" y="294.7" width="29.1" height="28.5" fill="none" stroke="#111" stroke-width="1.85"/>
<text x="69.7" y="263.5" font-family="Liberation Sans, sans-serif" font-size="10.6" fill="#222" stroke="#222" stroke-width="0.2" textLength="6.6" lengthAdjust="spacingAndGlyphs">A</text>
<text x="72.5" y="277.2" font-family="Liberation Sans, sans-serif" font-size="10.5" fill="#222" stroke="#222" stroke-width="0.2" textLength="28.9" lengthAdjust="spacingAndGlyphs">48.6%</text>
<text x="31.6" y="253.0" font-family="Liberation Sans, sans-serif" font-size="10.0" fill="#222" stroke="#222" stroke-width="0.25" textLength="8.6" lengthAdjust="spacingAndGlyphs">10</text>
<text x="40.30" y="249.80" font-family="Liberation Sans, sans-serif" font-size="6.6" fill="#222" stroke="#222" stroke-width="0.25">3</text>
<text x="31.6" y="281.0" font-family="Liberation Sans, sans-serif" font-size="10.0" fill="#222" stroke="#222" stroke-width="0.25" textLength="8.6" lengthAdjust="spacingAndGlyphs">10</text>
<text x="40.30" y="277.80" font-family="Liberation Sans, sans-serif" font-size="6.6" fill="#222" stroke="#222" stroke-width="0.25">2</text>
<text x="31.6" y="309.5" font-family="Liberation Sans, sans-serif" font-size="10.0" fill="#222" stroke="#222" stroke-width="0.25" textLength="8.6" lengthAdjust="spacingAndGlyphs">10</text>
<text x="40.30" y="306.30" font-family="Liberation Sans, sans-serif" font-size="6.6" fill="#222" stroke="#222" stroke-width="0.25">1</text>
<text x="31.6" y="337.0" font-family="Liberation Sans, sans-serif" font-size="10.0" fill="#222" stroke="#222" stroke-width="0.25" textLength="8.6" lengthAdjust="spacingAndGlyphs">10</text>
<text x="40.30" y="333.80" font-family="Liberation Sans, sans-serif" font-size="6.6" fill="#222" stroke="#222" stroke-width="0.25">0</text>
<text x="71.0" y="371.2" font-family="Liberation Sans, sans-serif" font-size="9.6" fill="#222" stroke="#222" stroke-width="0.25" textLength="9.2" lengthAdjust="spacingAndGlyphs">10</text>
<text x="80.30" y="368.30" font-family="Liberation Sans, sans-serif" font-size="6.6" fill="#222" stroke="#222" stroke-width="0.25">0</text>
<text x="95.6" y="371.2" font-family="Liberation Sans, sans-serif" font-size="9.6" fill="#222" stroke="#222" stroke-width="0.25" textLength="9.2" lengthAdjust="spacingAndGlyphs">10</text>
<text x="104.90" y="368.30" font-family="Liberation Sans, sans-serif" font-size="6.6" fill="#222" stroke="#222" stroke-width="0.25">1</text>
<text x="123.0" y="371.2" font-family="Liberation Sans, sans-serif" font-size="9.6" fill="#222" stroke="#222" stroke-width="0.25" textLength="9.2" lengthAdjust="spacingAndGlyphs">10</text>
<text x="132.30" y="368.30" font-family="Liberation Sans, sans-serif" font-size="6.6" fill="#222" stroke="#222" stroke-width="0.25">2</text>
<text x="139.4" y="371.2" font-family="Liberation Sans, sans-serif" font-size="9.6" fill="#222" stroke="#222" stroke-width="0.25" textLength="9.2" lengthAdjust="spacingAndGlyphs">10</text>
<text x="148.70" y="368.30" font-family="Liberation Sans, sans-serif" font-size="6.6" fill="#222" stroke="#222" stroke-width="0.25">3</text>
<text transform="translate(15 306.5) rotate(-90)" font-family="Liberation Sans, sans-serif" font-size="17.8" font-weight="bold" text-anchor="middle" fill="#000" textLength="45" lengthAdjust="spacingAndGlyphs">CD19</text>
<text x="90" y="402.8" font-family="Liberation Sans, sans-serif" font-size="17.6" font-weight="bold" text-anchor="middle" fill="#000" textLength="36.6" lengthAdjust="spacingAndGlyphs">CD5</text>
</g>
<g id="panelC">
<text x="187" y="243.4" font-family="Liberation Sans, sans-serif" font-size="24.8" font-weight="bold" fill="#000" stroke="#000" stroke-width="0.3">C</text>
<rect x="230.0" y="251.0" width="109.10" height="117.0" fill="none" stroke="#747474" stroke-width="1.2"/>
<path d="M230.0 358.91h-1.5M230.0 353.77h-1.5M230.0 350.12h-1.5M230.0 347.29h-1.5M230.0 344.98h-1.5M230.0 343.02h-1.5M230.0 341.33h-1.5M230.0 339.84h-1.5M230.0 338.50h-2.7M230.0 329.71h-1.5M230.0 324.57h-1.5M230.0 320.92h-1.5M230.0 318.09h-1.5M230.0 315.78h-1.5M230.0 313.82h-1.5M230.0 312.13h-1.5M230.0 310.64h-1.5M230.0 309.30h-2.7M230.0 300.51h-1.5M230.0 295.37h-1.5M230.0 291.72h-1.5M230.0 288.89h-1.5M230.0 286.58h-1.5M230.0 284.62h-1.5M230.0 282.93h-1.5M230.0 281.44h-1.5M230.0 280.10h-2.7M230.0 271.31h-1.5M230.0 266.17h-1.5M230.0 262.52h-1.5M230.0 259.69h-1.5M230.0 257.38h-1.5M230.0 255.42h-1.5M230.0 253.73h-1.5M230.0 252.24h-1.5M230.0 250.90h-2.7M238.42 368.0v1.5M243.23 368.0v1.5M246.64 368.0v1.5M249.28 368.0v1.5M251.44 368.0v1.5M253.27 368.0v1.5M254.85 368.0v1.5M256.25 368.0v1.5M257.50 368.0v2.7M265.72 368.0v1.5M270.53 368.0v1.5M273.94 368.0v1.5M276.58 368.0v1.5M278.74 368.0v1.5M280.57 368.0v1.5M282.15 368.0v1.5M283.55 368.0v1.5M284.80 368.0v2.7M293.02 368.0v1.5M297.83 368.0v1.5M301.24 368.0v1.5M303.88 368.0v1.5M306.04 368.0v1.5M307.87 368.0v1.5M309.45 368.0v1.5M310.85 368.0v1.5M312.10 368.0v2.7M320.32 368.0v1.5M325.13 368.0v1.5M328.54 368.0v1.5M331.18 368.0v1.5M333.34 368.0v1.5M335.17 368.0v1.5M336.75 368.0v1.5M338.15 368.0v1.5" stroke="#7d7d7d" stroke-width="0.6" fill="none"/>
<defs><filter id="blC" x="-50%" y="-50%" width="200%" height="200%"><feGaussianBlur stdDeviation="1.8"/></filter><filter id="soft" x="-10%" y="-10%" width="120%" height="120%"><feGaussianBlur stdDeviation="0.38"/></filter></defs>
<ellipse cx="244.4" cy="319.3" rx="4.6" ry="4.6" fill="#383838" filter="url(#blC)"/>
<path d="M247.2 323.9h0.75M240.8 317.6h0.75M243.0 318.8h0.75M231.3 322.0h0.75M236.5 320.1h0.75M240.5 326.4h0.75M243.8 326.5h0.75M249.8 317.7h0.75M245.3 315.0h0.75M243.1 321.0h0.75M242.9 326.0h0.75M243.5 311.6h0.75M243.3 317.6h0.75M244.4 318.2h0.75M242.3 321.0h0.75M236.1 328.7h0.75M234.3 317.6h0.75M243.5 317.2h0.75M243.6 315.1h0.75M240.9 316.0h0.75M241.7 315.6h0.75M244.7 322.0h0.75M252.4 314.7h0.75M244.4 321.0h0.75M251.2 324.9h0.75M262.4 309.2h0.75M243.1 320.2h0.75M245.5 324.4h0.75M242.5 302.9h0.75M239.0 315.1h0.75M246.6 322.1h0.75M248.8 324.7h0.75M233.5 327.4h0.75M247.6 314.7h0.75M245.3 324.0h0.75M250.9 320.7h0.75M247.3 314.1h0.75M245.6 320.8h0.75M251.5 322.0h0.75M245.7 318.2h0.75M256.4 320.0h0.75M247.8 326.5h0.75M244.1 319.6h0.75M246.8 312.2h0.75M239.5 317.0h0.75M238.8 317.7h0.75M239.1 322.0h0.75M242.4 317.2h0.75M239.0 323.3h0.75M252.0 323.8h0.75M243.7 314.9h0.75M241.0 313.9h0.75M240.4 321.6h0.75M243.0 317.0h0.75M248.3 314.7h0.75M238.2 312.1h0.75M245.8 327.4h0.75M243.4 316.7h0.75M239.0 316.3h0.75M248.6 317.6h0.75M244.7 324.7h0.75M244.2 322.9h0.75M247.6 318.6h0.75M244.4 315.8h0.75M248.0 313.1h0.75M247.1 326.2h0.75M243.5 315.8h0.75M238.6 320.9h0.75M241.8 311.6h0.75M249.6 315.8h0.75M248.7 313.2h0.75M245.2 316.7h0.75M238.7 319.2h0.75M250.6 309.0h0.75M235.9 310.2h0.75M239.1 318.8h0.75M242.0 313.5h0.75M247.5 318.6h0.75M242.3 319.6h0.75M239.7 324.3h0.75M243.2 320.2h0.75M251.6 321.3h0.75M249.5 317.8h0.75M246.3 321.2h0.75M246.1 318.1h0.75M247.6 319.1h0.75M250.2 324.6h0.75M241.6 323.1h0.75M249.1 311.7h0.75M244.3 318.5h0.75M244.3 323.0h0.75M238.6 318.8h0.75M240.9 323.8h0.75M246.2 315.0h0.75M241.8 322.8h0.75M243.4 318.5h0.75M247.4 317.3h0.75M239.9 325.4h0.75M258.6 321.3h0.75M236.5 322.6h0.75M242.5 319.4h0.75M244.3 322.1h0.75M253.3 315.0h0.75M240.0 311.0h0.75M241.3 317.3h0.75M252.5 319.2h0.75M243.8 324.7h0.75M259.7 321.8h0.75M238.9 319.8h0.75M253.4 321.2h0.75M250.4 322.4h0.75M240.4 314.0h0.75M251.3 308.4h0.75M242.6 314.2h0.75M246.0 331.8h0.75M239.9 318.8h0.75M240.3 318.5h0.75M249.0 324.4h0.75M246.5 328.3h0.75M243.8 314.9h0.75M233.3 321.6h0.75M242.7 323.5h0.75M241.0 319.7h0.75M244.5 329.5h0.75M239.1 314.8h0.75M244.0 316.5h0.75M243.1 320.5h0.75M248.9 319.0h0.75M238.7 316.3h0.75M249.2 325.2h0.75M253.3 313.8h0.75M247.0 321.2h0.75M238.8 322.2h0.75M251.3 324.5h0.75M245.3 315.7h0.75M245.2 316.7h0.75M255.5 324.9h0.75M241.9 323.3h0.75M246.6 316.3h0.75M249.7 313.6h0.75M240.6 326.0h0.75M239.7 310.2h0.75M245.6 313.5h0.75M251.3 313.7h0.75M247.1 319.2h0.75M247.2 329.4h0.75M242.1 314.8h0.75M237.8 324.5h0.75M250.2 316.4h0.75M249.1 325.6h0.75M244.3 325.8h0.75M237.6 308.4h0.75M247.2 320.7h0.75M250.1 316.3h0.75M242.9 323.7h0.75M231.9 322.0h0.75M241.6 311.9h0.75M252.5 314.8h0.75M243.1 322.1h0.75M249.2 315.5h0.75M244.8 312.3h0.75M244.5 320.3h0.75M249.4 320.9h0.75M247.5 316.8h0.75M242.2 319.3h0.75M244.5 321.0h0.75M245.4 320.4h0.75M252.3 323.4h0.75M237.6 315.7h0.75M248.2 319.4h0.75M243.9 318.6h0.75M243.9 320.4h0.75M240.2 328.4h0.75M249.9 320.3h0.75M237.8 313.6h0.75M248.8 328.2h0.75M245.0 317.3h0.75M238.1 313.7h0.75M249.2 318.9h0.75M253.5 315.6h0.75M248.5 320.0h0.75M242.0 315.7h0.75M237.9 323.3h0.75M245.8 316.8h0.75M247.7 319.7h0.75M235.4 317.5h0.75M241.5 323.0h0.75M240.4 325.6h0.75M246.2 317.1h0.75M250.6 318.5h0.75M245.2 326.2h0.75M246.5 314.0h0.75M251.2 320.7h0.75M240.9 314.2h0.75M242.7 313.1h0.75M240.6 324.0h0.75M243.9 323.1h0.75M242.3 318.5h0.75M249.2 306.5h0.75M248.4 325.0h0.75M233.6 327.4h0.75M250.6 316.6h0.75M248.7 323.6h0.75M246.7 327.6h0.75M244.0 326.1h0.75M243.6 308.5h0.75M250.9 312.2h0.75M245.5 313.3h0.75M239.9 325.6h0.75M235.5 322.9h0.75M246.8 330.0h0.75M248.3 316.4h0.75M246.4 327.9h0.75M251.4 320.5h0.75M253.1 320.2h0.75M250.6 315.4h0.75M242.4 322.2h0.75M237.0 327.0h0.75M239.4 324.5h0.75M245.2 318.3h0.75M251.9 320.3h0.75M244.6 324.0h0.75M242.1 324.0h0.75M242.6 329.4h0.75M230.9 319.4h0.75M245.8 313.8h0.75M251.9 315.8h0.75M246.9 318.5h0.75M243.8 321.3h0.75M254.1 319.6h0.75M244.4 323.7h0.75M235.1 311.3h0.75M244.8 320.9h0.75M246.3 309.7h0.75M244.3 317.8h0.75M245.2 314.0h0.75M242.0 320.4h0.75M251.1 316.3h0.75M245.3 316.6h0.75M246.6 317.9h0.75M242.6 324.9h0.75M239.6 326.0h0.75M239.7 320.4h0.75M238.5 323.0h0.75M242.0 315.0h0.75M239.2 328.4h0.75M241.6 317.6h0.75M243.8 318.7h0.75M248.7 324.3h0.75M237.8 315.8h0.75M244.2 317.7h0.75M245.8 318.2h0.75M253.7 327.3h0.75M250.2 318.2h0.75M247.8 319.4h0.75M237.8 317.5h0.75M235.4 317.5h0.75M246.3 318.8h0.75M253.6 317.5h0.75M247.8 318.7h0.75M251.1 322.7h0.75M248.2 319.7h0.75M247.5 318.6h0.75M252.5 321.9h0.75M248.0 318.1h0.75M243.8 320.6h0.75M240.7 320.5h0.75M242.0 323.8h0.75M252.3 319.0h0.75M243.8 324.5h0.75M239.8 318.1h0.75M249.1 326.2h0.75M250.8 313.2h0.75M249.9 315.1h0.75M244.8 325.2h0.75M251.8 318.8h0.75M242.6 304.1h0.75M247.6 312.7h0.75M250.1 322.9h0.75M251.9 321.0h0.75M239.3 322.9h0.75M242.3 314.3h0.75M241.8 314.5h0.75M239.6 316.6h0.75M241.1 314.8h0.75M241.1 324.6h0.75M237.9 325.7h0.75M246.9 309.5h0.75M243.3 320.7h0.75M248.1 318.7h0.75M239.6 311.4h0.75M252.1 323.2h0.75M238.8 309.6h0.75M244.8 315.4h0.75M249.5 311.0h0.75M240.7 324.8h0.75M251.8 322.7h0.75M242.3 321.9h0.75M246.6 323.5h0.75M243.1 316.7h0.75M242.8 316.6h0.75M253.3 316.1h0.75M238.3 310.3h0.75M242.4 323.6h0.75M247.7 315.3h0.75M238.1 323.5h0.75M241.2 322.7h0.75M241.4 314.1h0.75M242.1 326.3h0.75M243.8 323.4h0.75M242.2 320.1h0.75M239.2 313.2h0.75M247.0 324.7h0.75M246.9 319.4h0.75M237.4 319.8h0.75M240.2 315.1h0.75M245.6 315.7h0.75M244.2 319.2h0.75M244.0 326.0h0.75M242.3 325.2h0.75M247.6 317.4h0.75M243.9 324.6h0.75M238.9 318.4h0.75M246.5 320.7h0.75M248.2 318.2h0.75M246.5 308.3h0.75M243.5 314.5h0.75M252.2 321.5h0.75M249.4 318.3h0.75M241.5 316.9h0.75M245.1 329.0h0.75M249.0 324.3h0.75M253.7 317.9h0.75M242.9 318.4h0.75M247.2 328.8h0.75M249.0 321.9h0.75M240.5 322.5h0.75M250.7 316.5h0.75M245.0 317.0h0.75M234.1 314.8h0.75M242.8 314.2h0.75M247.4 319.2h0.75M248.8 321.3h0.75M249.7 325.6h0.75M247.9 319.5h0.75M246.2 325.2h0.75M248.0 317.4h0.75M242.1 323.6h0.75M242.4 319.8h0.75M248.0 314.0h0.75M250.0 319.9h0.75M246.3 316.5h0.75M235.8 321.9h0.75M245.7 323.6h0.75M248.4 314.5h0.75M244.3 309.7h0.75M247.5 323.2h0.75M250.8 321.5h0.75M243.1 322.2h0.75M247.5 318.9h0.75M238.8 317.8h0.75M248.4 321.8h0.75M242.3 315.7h0.75M236.5 325.7h0.75M242.7 315.4h0.75M244.4 324.2h0.75M238.9 321.7h0.75M243.5 321.8h0.75M246.2 326.3h0.75M250.8 316.3h0.75M243.7 316.6h0.75M248.4 317.4h0.75M237.2 321.4h0.75M240.4 312.4h0.75M246.2 319.4h0.75M252.9 316.5h0.75M247.7 320.1h0.75M241.4 320.5h0.75M247.7 332.3h0.75M240.6 316.0h0.75M243.9 316.0h0.75M245.3 322.3h0.75M246.0 317.3h0.75M250.8 327.1h0.75M246.6 313.9h0.75M252.0 320.0h0.75M244.2 316.3h0.75M245.8 327.1h0.75M244.3 310.3h0.75M241.6 318.7h0.75M245.7 311.5h0.75M239.1 318.7h0.75M245.0 321.4h0.75M247.6 320.4h0.75M248.2 312.5h0.75M239.7 321.2h0.75M251.8 310.9h0.75M246.3 321.5h0.75M236.8 322.1h0.75M250.5 313.0h0.75M242.4 311.6h0.75M243.0 322.9h0.75M241.2 318.3h0.75M251.1 316.8h0.75M246.0 332.7h0.75M243.1 321.9h0.75M242.6 326.4h0.75M243.3 316.2h0.75M246.2 321.9h0.75M242.0 323.7h0.75M248.7 320.4h0.75M242.6 316.4h0.75M241.1 314.2h0.75M249.4 321.9h0.75M252.7 320.3h0.75M252.5 312.2h0.75M245.6 323.2h0.75M242.3 325.6h0.75M244.5 315.9h0.75M236.3 320.9h0.75M245.4 308.5h0.75M240.8 317.3h0.75M242.5 318.2h0.75M247.6 319.3h0.75M246.7 322.8h0.75M246.5 323.4h0.75M240.1 319.8h0.75M242.9 321.1h0.75M248.7 311.4h0.75M243.5 313.9h0.75M244.4 316.9h0.75M246.9 323.5h0.75M245.7 319.6h0.75M240.0 316.8h0.75M242.8 314.4h0.75M245.4 317.6h0.75M243.3 311.2h0.75M239.9 325.0h0.75M244.8 319.6h0.75M238.8 311.8h0.75M243.2 323.0h0.75M247.2 321.6h0.75M246.6 322.6h0.75M240.3 318.2h0.75M244.6 325.8h0.75M248.0 320.3h0.75M248.1 318.0h0.75M231.0 314.2h0.75M250.9 314.9h0.75M240.9 318.5h0.75M246.3 320.6h0.75M252.4 322.2h0.75M243.4 316.0h0.75M244.3 317.2h0.75M248.8 327.7h0.75M249.4 319.2h0.75M242.8 317.6h0.75M242.2 318.2h0.75M242.7 316.3h0.75M244.7 327.9h0.75M235.6 318.5h0.75M245.2 317.5h0.75M243.3 321.2h0.75M246.2 327.7h0.75M246.3 323.1h0.75M251.4 323.5h0.75M241.8 317.6h0.75M239.8 329.8h0.75M244.7 318.1h0.75M245.1 316.6h0.75M241.5 319.1h0.75M246.8 311.1h0.75M247.5 330.2h0.75M241.5 312.1h0.75M244.7 319.5h0.75M245.4 318.4h0.75M240.2 318.6h0.75M250.3 322.2h0.75M253.3 323.1h0.75M248.8 320.8h0.75M238.5 323.1h0.75M250.6 318.1h0.75M246.2 313.8h0.75M245.2 313.5h0.75M244.0 327.0h0.75M243.9 320.9h0.75M236.1 321.2h0.75M243.2 316.6h0.75M239.2 324.0h0.75M249.7 317.0h0.75M244.3 312.6h0.75M240.6 313.4h0.75M252.0 322.9h0.75M247.0 311.4h0.75M246.4 316.3h0.75M239.1 315.9h0.75M248.9 314.7h0.75M253.6 315.0h0.75M251.1 321.6h0.75M239.1 323.6h0.75M245.1 314.8h0.75M235.9 327.7h0.75M245.4 326.7h0.75M246.2 312.2h0.75M248.6 316.3h0.75M243.0 323.3h0.75M235.0 311.8h0.75M248.3 315.4h0.75M241.0 321.5h0.75M248.1 324.3h0.75M248.6 321.8h0.75M243.2 319.6h0.75M236.7 332.7h0.75M248.3 329.0h0.75M239.4 322.7h0.75M244.6 322.8h0.75M241.2 315.8h0.75M248.2 316.3h0.75M243.0 321.8h0.75M246.6 323.3h0.75M248.4 309.8h0.75M248.4 318.2h0.75M240.3 328.6h0.75M246.1 312.7h0.75M252.2 309.0h0.75M243.9 319.7h0.75M245.8 317.4h0.75M244.6 325.8h0.75M240.1 312.5h0.75M238.2 306.4h0.75M243.6 311.0h0.75M243.1 317.0h0.75M244.5 315.5h0.75M239.4 322.3h0.75M242.6 322.7h0.75M243.2 323.4h0.75M242.6 311.9h0.75M252.5 315.8h0.75M250.9 322.0h0.75M237.0 319.6h0.75M254.1 320.5h0.75M246.2 317.7h0.75M241.4 322.3h0.75M241.6 319.1h0.75M240.2 315.8h0.75M249.6 317.5h0.75M255.7 319.8h0.75M244.0 322.5h0.75M249.4 316.4h0.75M247.4 319.3h0.75M232.9 311.7h0.75M241.9 316.6h0.75M244.6 318.2h0.75M239.7 317.8h0.75M254.5 325.5h0.75M240.8 314.8h0.75M248.9 318.5h0.75M247.9 316.8h0.75M247.2 314.2h0.75M250.0 321.1h0.75M246.9 317.2h0.75M245.0 317.6h0.75M242.3 325.0h0.75M240.0 309.4h0.75M233.5 312.3h0.75M245.2 314.6h0.75M243.1 315.6h0.75M248.6 315.7h0.75M236.4 311.4h0.75M238.4 323.6h0.75M241.7 322.6h0.75M245.9 313.9h0.75M252.7 326.7h0.75M240.3 315.2h0.75M242.0 320.9h0.75M245.5 318.4h0.75M243.3 325.4h0.75M239.5 311.1h0.75M242.8 320.4h0.75M238.5 324.3h0.75M237.5 324.9h0.75M245.9 317.3h0.75M243.7 319.5h0.75M237.1 317.7h0.75M242.2 325.7h0.75M235.8 330.1h0.75M251.8 312.6h0.75M249.8 323.2h0.75M248.7 310.9h0.75M241.8 308.1h0.75M245.9 322.0h0.75M243.1 311.2h0.75M248.0 322.7h0.75M249.0 311.9h0.75M247.0 315.0h0.75M240.0 319.3h0.75M249.4 313.4h0.75M249.3 325.7h0.75M235.0 325.2h0.75M243.6 322.7h0.75M239.9 309.0h0.75M244.7 319.5h0.75M241.3 317.7h0.75M241.4 320.7h0.75M243.3 310.6h0.75M240.4 310.5h0.75M246.7 321.9h0.75M246.5 316.3h0.75M247.2 322.2h0.75M256.8 322.1h0.75M248.7 317.2h0.75M242.8 326.3h0.75M247.8 315.8h0.75M250.4 314.5h0.75M245.3 312.5h0.75M237.8 318.9h0.75M247.8 316.9h0.75M240.4 324.3h0.75M245.9 318.0h0.75M250.1 320.2h0.75M253.0 327.9h0.75M245.4 324.7h0.75M244.9 313.9h0.75M231.2 319.0h0.75M239.0 315.7h0.75M250.2 320.6h0.75M239.0 320.5h0.75M241.3 330.6h0.75M250.2 317.9h0.75M245.2 325.6h0.75M246.1 315.6h0.75M250.6 318.2h0.75M243.6 315.8h0.75M248.5 327.4h0.75M243.9 324.1h0.75M248.1 318.2h0.75M246.4 320.6h0.75M235.2 327.2h0.75M238.4 323.3h0.75M245.6 318.2h0.75M240.3 323.8h0.75M242.4 316.1h0.75M240.4 314.2h0.75M232.9 324.8h0.75M249.3 314.6h0.75M246.8 325.7h0.75M246.6 321.2h0.75M244.5 317.3h0.75M245.1 318.8h0.75M245.9 310.6h0.75M244.0 310.7h0.75M246.8 327.3h0.75M246.5 315.7h0.75M244.6 318.3h0.75M244.0 312.4h0.75M248.9 319.8h0.75M236.5 324.0h0.75M239.4 312.9h0.75M238.4 317.8h0.75M240.1 314.7h0.75M242.6 323.6h0.75M250.6 324.3h0.75M242.6 314.4h0.75M251.9 320.8h0.75M245.0 314.8h0.75M247.3 315.6h0.75M248.5 315.5h0.75M248.2 321.6h0.75M240.1 329.0h0.75M253.6 317.9h0.75M240.8 318.6h0.75M241.0 322.3h0.75M238.1 309.5h0.75M245.8 323.1h0.75M246.7 313.7h0.75M245.6 311.4h0.75M249.8 328.3h0.75M242.0 320.4h0.75M250.3 324.5h0.75M243.3 319.1h0.75M249.4 306.9h0.75M251.6 323.8h0.75M246.2 325.6h0.75M252.5 314.2h0.75M241.2 324.7h0.75M236.4 321.3h0.75M244.9 319.0h0.75M245.7 323.8h0.75M246.0 317.8h0.75M252.7 310.9h0.75M238.6 321.7h0.75M250.8 315.7h0.75M251.4 314.9h0.75M237.5 315.9h0.75M246.3 317.0h0.75M238.9 311.2h0.75M252.0 318.8h0.75M234.7 321.3h0.75" stroke="#1a1a1a" stroke-width="0.75" fill="none" opacity="1.0" filter="url(#soft)"/>
<path d="M240.8 318.6h0.6M235.6 322.5h0.6M239.4 301.8h0.6M245.1 321.5h0.6M246.8 341.7h0.6M240.4 315.1h0.6M249.4 317.9h0.6M254.5 322.4h0.6M255.4 326.5h0.6M236.2 316.5h0.6M254.2 325.8h0.6M245.5 297.5h0.6M248.5 326.1h0.6M232.2 319.3h0.6M239.6 335.1h0.6M252.9 319.1h0.6M246.9 319.1h0.6M254.3 330.2h0.6M232.3 308.5h0.6M237.8 308.2h0.6M231.5 327.1h0.6M238.7 319.3h0.6M248.5 335.5h0.6M247.6 315.3h0.6M240.6 303.4h0.6M232.2 292.0h0.6M241.5 319.0h0.6M250.1 326.9h0.6M250.5 327.4h0.6M241.7 331.7h0.6M232.6 322.9h0.6M241.4 329.0h0.6" stroke="#999" stroke-width="0.6" fill="none" opacity="1.0"/>
<path d="M257.2 251.0V368.0" stroke="#222" stroke-width="0.9" fill="none"/>
<path d="M230.0 338.9H339.1" stroke="#333" stroke-width="1.4" fill="none"/>
<text x="230.4" y="261.2" font-family="Liberation Sans, sans-serif" font-size="9.3" fill="#1a1a1a" stroke="#1a1a1a" stroke-width="0.18" textLength="7.7" lengthAdjust="spacingAndGlyphs">B1</text>
<text x="232.4" y="271.8" font-family="Liberation Sans, sans-serif" font-size="9.3" fill="#1a1a1a" stroke="#1a1a1a" stroke-width="0.18" textLength="21.3" lengthAdjust="spacingAndGlyphs">99.0%</text>
<text x="258.0" y="261.2" font-family="Liberation Sans, sans-serif" font-size="9.3" fill="#1a1a1a" stroke="#1a1a1a" stroke-width="0.18" textLength="7.8" lengthAdjust="spacingAndGlyphs">B2</text>
<text x="262.2" y="271.8" font-family="Liberation Sans, sans-serif" font-size="9.3" fill="#1a1a1a" stroke="#1a1a1a" stroke-width="0.18" textLength="17.3" lengthAdjust="spacingAndGlyphs">0.1%</text>
<text x="230.4" y="349.3" font-family="Liberation Sans, sans-serif" font-size="9.3" fill="#1a1a1a" stroke="#1a1a1a" stroke-width="0.18" textLength="8.4" lengthAdjust="spacingAndGlyphs">B3</text>
<text x="235.0" y="359.8" font-family="Liberation Sans, sans-serif" font-size="9.3" fill="#1a1a1a" stroke="#1a1a1a" stroke-width="0.18" textLength="16.9" lengthAdjust="spacingAndGlyphs">0.9%</text>
<text x="258.0" y="349.3" font-family="Liberation Sans, sans-serif" font-size="9.3" fill="#1a1a1a" stroke="#1a1a1a" stroke-width="0.18" textLength="8.2" lengthAdjust="spacingAndGlyphs">B4</text>
<text x="262.2" y="359.8" font-family="Liberation Sans, sans-serif" font-size="9.3" fill="#1a1a1a" stroke="#1a1a1a" stroke-width="0.18" textLength="17.3" lengthAdjust="spacingAndGlyphs">0.1%</text>
<text x="216.0" y="253.3" font-family="Liberation Sans, sans-serif" font-size="6.3" fill="#4a4a4a" textLength="7.0056" lengthAdjust="spacingAndGlyphs">10</text>
<text x="223.11" y="250.80" font-family="Liberation Sans, sans-serif" font-size="4.1" fill="#4a4a4a">3</text>
<text x="216.0" y="282.6" font-family="Liberation Sans, sans-serif" font-size="6.3" fill="#4a4a4a" textLength="7.0056" lengthAdjust="spacingAndGlyphs">10</text>
<text x="223.11" y="280.10" font-family="Liberation Sans, sans-serif" font-size="4.1" fill="#4a4a4a">2</text>
<text x="216.0" y="311.8" font-family="Liberation Sans, sans-serif" font-size="6.3" fill="#4a4a4a" textLength="7.0056" lengthAdjust="spacingAndGlyphs">10</text>
<text x="223.11" y="309.30" font-family="Liberation Sans, sans-serif" font-size="4.1" fill="#4a4a4a">1</text>
<text x="216.0" y="340.6" font-family="Liberation Sans, sans-serif" font-size="6.3" fill="#4a4a4a" textLength="7.0056" lengthAdjust="spacingAndGlyphs">10</text>
<text x="223.11" y="338.10" font-family="Liberation Sans, sans-serif" font-size="4.1" fill="#4a4a4a">0</text>
<text x="254.4" y="376.0" font-family="Liberation Sans, sans-serif" font-size="5.6" fill="#666" textLength="6.2272" lengthAdjust="spacingAndGlyphs">10</text>
<text x="260.73" y="374.00" font-family="Liberation Sans, sans-serif" font-size="3.8" fill="#666">0</text>
<text x="281.6" y="376.0" font-family="Liberation Sans, sans-serif" font-size="5.6" fill="#666" textLength="6.2272" lengthAdjust="spacingAndGlyphs">10</text>
<text x="287.93" y="374.00" font-family="Liberation Sans, sans-serif" font-size="3.8" fill="#666">1</text>
<text x="309.0" y="376.0" font-family="Liberation Sans, sans-serif" font-size="5.6" fill="#666" textLength="6.2272" lengthAdjust="spacingAndGlyphs">10</text>
<text x="315.33" y="374.00" font-family="Liberation Sans, sans-serif" font-size="3.8" fill="#666">2</text>
<text x="331.40000000000003" y="376.0" font-family="Liberation Sans, sans-serif" font-size="5.6" fill="#666" textLength="6.2272" lengthAdjust="spacingAndGlyphs">10</text>
<text x="337.73" y="374.00" font-family="Liberation Sans, sans-serif" font-size="3.8" fill="#666">3</text>
<text transform="translate(202.8 301.6) rotate(-90)" font-family="Liberation Sans, sans-serif" font-size="18.4" font-weight="bold" text-anchor="middle" fill="#000">Ig<tspan font-weight="normal" font-size="17.5">κ</tspan></text>
<text x="282.4" y="403" font-family="Liberation Sans, sans-serif" font-size="17.8" font-weight="bold" fill="#000">Ig<tspan font-family="Liberation Serif, serif" font-weight="normal" font-size="20.5" fill="#222">λ</tspan></text>
</g>
<g id="panelD">
<text x="369.2" y="243.4" font-family="Liberation Sans, sans-serif" font-size="24.8" font-weight="bold" fill="#000" stroke="#000" stroke-width="0.3">D</text>
<rect x="410.7" y="250.6" width="107.70" height="115.65" fill="none" stroke="#7a7a7a" stroke-width="1"/>
<path d="M410.2 250.6H518.9" stroke="#555" stroke-width="1" fill="none"/>
<path d="M410.7 358.87h-1.5M410.7 353.76h-1.5M410.7 350.14h-1.5M410.7 347.33h-1.5M410.7 345.03h-1.5M410.7 343.09h-1.5M410.7 341.41h-1.5M410.7 339.93h-1.5M410.7 338.60h-2.7M410.7 329.87h-1.5M410.7 324.76h-1.5M410.7 321.14h-1.5M410.7 318.33h-1.5M410.7 316.03h-1.5M410.7 314.09h-1.5M410.7 312.41h-1.5M410.7 310.93h-1.5M410.7 309.60h-2.7M410.7 300.87h-1.5M410.7 295.76h-1.5M410.7 292.14h-1.5M410.7 289.33h-1.5M410.7 287.03h-1.5M410.7 285.09h-1.5M410.7 283.41h-1.5M410.7 281.93h-1.5M410.7 280.60h-2.7M410.7 271.87h-1.5M410.7 266.76h-1.5M410.7 263.14h-1.5M410.7 260.33h-1.5M410.7 258.03h-1.5M410.7 256.09h-1.5M410.7 254.41h-1.5M410.7 252.93h-1.5M410.7 251.60h-2.7M411.90 366.25v2.7M419.91 366.25v1.5M424.59 366.25v1.5M427.91 366.25v1.5M430.49 366.25v1.5M432.60 366.25v1.5M434.38 366.25v1.5M435.92 366.25v1.5M437.28 366.25v1.5M438.50 366.25v2.7M446.51 366.25v1.5M451.19 366.25v1.5M454.51 366.25v1.5M457.09 366.25v1.5M459.20 366.25v1.5M460.98 366.25v1.5M462.52 366.25v1.5M463.88 366.25v1.5M465.10 366.25v2.7M473.11 366.25v1.5M477.79 366.25v1.5M481.11 366.25v1.5M483.69 366.25v1.5M485.80 366.25v1.5M487.58 366.25v1.5M489.12 366.25v1.5M490.48 366.25v1.5M491.70 366.25v2.7M499.71 366.25v1.5M504.39 366.25v1.5M507.71 366.25v1.5M510.29 366.25v1.5M512.40 366.25v1.5M514.18 366.25v1.5M515.72 366.25v1.5M517.08 366.25v1.5M518.30 366.25v2.7" stroke="#7d7d7d" stroke-width="0.6" fill="none"/>
<defs><filter id="blD" x="-50%" y="-50%" width="200%" height="200%"><feGaussianBlur stdDeviation="1.9"/></filter></defs>
<ellipse cx="424.3" cy="331.3" rx="6.4" ry="4.8" fill="#262626" filter="url(#blD)"/>
<path d="M425.5 332.7h0.75M424.6 327.8h0.75M434.7 331.9h0.75M426.2 338.3h0.75M425.1 333.1h0.75M423.4 320.7h0.75M431.3 325.4h0.75M421.5 328.9h0.75M429.7 336.8h0.75M428.7 332.4h0.75M430.1 315.4h0.75M418.0 331.6h0.75M424.3 326.2h0.75M430.0 333.1h0.75M420.1 329.3h0.75M432.2 333.8h0.75M423.3 330.9h0.75M433.1 330.1h0.75M423.4 331.2h0.75M421.2 332.4h0.75M422.5 327.4h0.75M429.4 328.1h0.75M419.8 324.4h0.75M424.6 320.5h0.75M422.2 331.5h0.75M419.4 326.0h0.75M427.9 331.6h0.75M417.9 314.8h0.75M428.7 324.4h0.75M420.1 321.7h0.75M425.9 332.6h0.75M430.9 327.2h0.75M425.9 332.4h0.75M423.2 321.2h0.75M431.8 319.9h0.75M427.2 329.9h0.75M423.4 327.7h0.75M430.9 321.6h0.75M422.9 328.5h0.75M424.8 329.8h0.75M421.8 327.4h0.75M425.3 331.1h0.75M425.7 321.0h0.75M424.2 331.3h0.75M425.1 331.4h0.75M429.5 327.7h0.75M423.3 334.1h0.75M428.3 330.7h0.75M426.3 334.6h0.75M422.4 330.1h0.75M431.3 319.8h0.75M425.0 313.2h0.75M418.6 322.4h0.75M426.4 327.7h0.75M424.3 332.9h0.75M421.1 328.0h0.75M419.1 332.2h0.75M419.3 330.4h0.75M413.9 331.5h0.75M422.8 332.6h0.75M423.8 324.3h0.75M423.5 331.4h0.75M421.1 333.4h0.75M434.9 334.0h0.75M428.8 330.5h0.75M418.9 332.5h0.75M428.5 327.9h0.75M431.9 328.8h0.75M426.6 322.1h0.75M422.7 318.4h0.75M422.8 324.2h0.75M417.8 330.1h0.75M429.7 326.6h0.75M430.8 331.9h0.75M423.0 329.8h0.75M417.0 321.8h0.75M433.1 329.4h0.75M420.1 322.7h0.75M417.2 330.3h0.75M426.5 327.3h0.75M426.4 327.5h0.75M424.8 330.8h0.75M426.5 326.7h0.75M428.4 332.4h0.75M424.0 320.6h0.75M426.8 330.7h0.75M421.3 319.3h0.75M431.9 331.6h0.75M426.4 334.9h0.75M417.1 327.6h0.75M425.7 328.1h0.75M420.2 327.7h0.75M421.6 329.4h0.75M423.6 335.4h0.75M426.8 334.0h0.75M424.4 328.5h0.75M431.8 334.8h0.75M424.2 322.3h0.75M428.7 336.9h0.75M423.8 330.1h0.75M429.4 319.1h0.75M431.3 327.5h0.75M425.5 331.3h0.75M422.2 337.2h0.75M420.0 329.1h0.75M417.5 331.4h0.75M418.5 332.4h0.75M421.4 330.2h0.75M431.6 316.6h0.75M414.5 322.2h0.75M427.4 321.4h0.75M423.0 328.3h0.75M428.7 329.3h0.75M425.1 318.5h0.75M420.3 331.4h0.75M426.3 330.2h0.75M419.8 331.6h0.75M424.2 325.9h0.75M420.4 326.8h0.75M430.9 330.4h0.75M428.5 334.2h0.75M419.4 325.4h0.75M420.3 331.7h0.75M419.9 321.5h0.75M427.0 321.2h0.75M425.2 325.2h0.75M421.7 328.6h0.75M425.3 327.5h0.75M424.8 325.9h0.75M422.7 329.7h0.75M417.8 332.5h0.75M433.7 328.6h0.75M419.3 328.0h0.75M426.9 317.6h0.75M424.3 328.4h0.75M430.8 324.8h0.75M426.2 333.4h0.75M426.0 324.4h0.75M422.1 333.7h0.75M427.2 327.4h0.75M424.0 327.0h0.75M436.0 326.2h0.75M427.1 328.1h0.75M428.3 335.6h0.75M426.9 323.0h0.75M420.9 330.5h0.75M423.6 330.8h0.75M426.7 331.6h0.75M419.4 332.1h0.75M418.1 322.3h0.75M423.6 330.8h0.75M426.2 317.2h0.75M424.3 323.4h0.75M423.5 331.3h0.75M429.8 332.4h0.75M423.3 324.3h0.75M429.7 343.4h0.75M426.3 331.2h0.75M420.2 331.5h0.75M421.3 323.7h0.75M419.8 327.4h0.75M424.9 326.3h0.75M422.8 328.1h0.75M421.9 329.1h0.75M420.8 338.1h0.75M429.1 324.0h0.75M423.6 330.7h0.75M420.8 327.2h0.75M426.1 323.8h0.75M430.8 317.0h0.75M422.7 324.8h0.75M423.7 326.3h0.75M424.5 328.5h0.75M430.4 337.5h0.75M422.7 332.8h0.75M430.9 332.0h0.75M422.1 327.0h0.75M428.7 336.4h0.75M424.2 329.3h0.75M421.6 325.3h0.75M420.9 318.8h0.75M421.5 330.3h0.75M426.8 320.8h0.75M428.2 327.7h0.75M433.5 336.8h0.75M423.5 325.3h0.75M427.6 338.5h0.75M421.9 332.5h0.75M424.2 314.0h0.75M428.0 326.2h0.75M429.7 331.5h0.75M420.1 310.8h0.75M421.4 337.7h0.75M421.5 322.0h0.75M427.6 334.0h0.75M425.1 327.3h0.75M439.8 326.7h0.75M420.4 339.5h0.75M422.3 322.2h0.75M422.0 313.0h0.75M420.8 323.3h0.75M415.0 326.2h0.75M423.4 329.3h0.75M425.5 329.5h0.75M420.2 333.8h0.75M423.1 333.8h0.75M423.6 329.1h0.75M426.2 334.2h0.75M431.4 321.2h0.75M414.5 327.7h0.75M431.3 319.3h0.75M419.3 331.5h0.75M428.2 321.6h0.75M426.4 331.4h0.75M425.2 332.8h0.75M420.3 327.0h0.75M428.5 324.1h0.75M419.9 332.7h0.75M428.9 326.3h0.75M419.4 338.1h0.75M418.2 318.0h0.75M434.1 333.7h0.75M423.6 330.7h0.75M424.8 327.9h0.75M430.4 327.4h0.75M420.9 324.4h0.75M423.4 333.2h0.75M427.2 334.0h0.75M416.7 332.6h0.75M426.0 322.2h0.75M416.9 339.0h0.75M427.9 323.3h0.75M420.8 332.6h0.75M412.0 331.6h0.75M424.3 329.8h0.75M420.8 327.6h0.75M426.5 330.8h0.75M418.7 319.1h0.75M422.9 332.7h0.75M414.4 330.2h0.75M422.7 320.1h0.75M421.7 332.8h0.75M427.1 326.1h0.75M428.9 323.6h0.75M424.6 327.7h0.75M431.8 333.3h0.75M426.6 328.9h0.75M421.1 329.7h0.75M424.6 333.5h0.75M431.6 331.8h0.75M418.3 331.2h0.75M426.8 325.9h0.75M424.0 330.5h0.75M431.0 319.9h0.75M420.8 330.0h0.75M425.5 323.0h0.75M421.6 304.2h0.75M427.2 327.8h0.75M421.9 322.1h0.75M428.1 324.6h0.75M422.9 335.3h0.75M425.0 322.0h0.75M423.4 323.3h0.75M418.9 333.4h0.75M421.6 326.9h0.75M430.3 325.4h0.75M421.8 317.4h0.75M415.8 330.3h0.75M432.1 329.9h0.75M417.1 333.2h0.75M430.4 330.3h0.75M419.9 321.8h0.75M421.8 322.4h0.75M421.0 329.2h0.75M425.9 318.1h0.75M418.0 329.8h0.75M430.8 338.3h0.75M418.1 323.1h0.75M423.4 323.2h0.75M416.5 329.2h0.75M426.4 332.3h0.75M419.7 326.6h0.75M432.5 332.3h0.75M426.7 322.2h0.75M427.2 329.3h0.75M428.5 330.7h0.75M426.2 319.8h0.75M423.1 328.1h0.75M433.1 339.4h0.75M426.3 330.9h0.75M432.1 331.4h0.75M425.0 331.8h0.75M423.7 324.6h0.75M423.6 328.5h0.75M423.7 330.4h0.75M428.3 332.1h0.75M426.8 325.2h0.75M425.7 334.8h0.75M425.0 332.8h0.75M422.2 325.8h0.75M423.3 333.8h0.75M426.5 328.8h0.75M426.0 321.8h0.75M418.3 332.7h0.75M425.5 324.6h0.75M429.2 333.2h0.75M419.8 324.2h0.75M425.2 331.7h0.75M418.9 332.9h0.75M428.0 323.2h0.75M430.6 327.0h0.75M426.7 326.7h0.75M426.0 325.8h0.75M421.7 325.1h0.75M427.0 330.1h0.75M429.6 307.4h0.75M421.0 323.3h0.75M420.7 330.2h0.75M416.6 328.1h0.75M419.1 327.8h0.75M433.0 313.1h0.75M425.0 331.6h0.75M428.4 329.4h0.75M417.1 333.3h0.75M422.2 331.4h0.75M428.8 325.4h0.75M430.5 323.0h0.75M420.1 331.3h0.75M426.3 327.4h0.75M423.9 318.3h0.75M418.9 333.5h0.75M425.1 320.3h0.75M423.2 321.3h0.75M421.4 323.7h0.75M432.7 333.1h0.75M422.6 336.8h0.75M423.4 312.9h0.75M429.7 319.7h0.75M419.3 333.6h0.75M431.4 334.7h0.75M425.6 336.9h0.75M427.6 332.4h0.75M415.4 319.8h0.75M424.6 323.6h0.75M424.1 333.4h0.75M425.8 316.5h0.75M424.2 330.8h0.75M428.2 330.4h0.75M428.5 330.6h0.75M427.4 332.8h0.75M420.4 332.5h0.75M419.3 325.3h0.75M421.3 332.9h0.75M422.0 333.4h0.75M432.1 323.7h0.75M413.8 330.0h0.75M428.7 333.8h0.75M422.3 326.7h0.75M422.7 332.1h0.75M420.6 333.9h0.75M421.8 329.1h0.75M422.2 335.3h0.75M420.1 331.8h0.75M430.9 328.7h0.75M427.1 329.1h0.75M422.8 329.2h0.75M425.7 334.2h0.75M422.8 322.4h0.75M424.7 330.7h0.75M420.3 321.2h0.75M427.2 329.3h0.75M426.4 322.9h0.75M423.0 309.7h0.75M422.4 315.2h0.75M420.0 330.1h0.75M421.5 332.8h0.75M434.3 332.5h0.75M424.9 329.6h0.75M423.6 311.5h0.75M413.5 315.2h0.75M418.5 326.1h0.75M429.0 317.3h0.75M415.9 326.0h0.75M425.8 333.5h0.75M419.9 332.3h0.75M422.7 332.4h0.75M420.4 325.8h0.75M425.6 332.4h0.75M427.1 328.5h0.75M428.7 328.0h0.75M424.3 319.5h0.75M431.0 318.1h0.75M427.7 327.7h0.75M427.4 323.7h0.75M423.0 330.7h0.75M425.8 330.4h0.75M424.4 331.8h0.75M425.4 334.0h0.75M424.4 325.8h0.75M424.4 328.6h0.75M417.7 329.5h0.75M414.6 325.4h0.75M413.8 332.2h0.75M423.9 321.6h0.75M424.0 331.5h0.75M416.7 332.0h0.75M421.6 330.3h0.75M424.0 324.1h0.75M417.3 331.1h0.75M428.1 328.5h0.75M423.3 325.7h0.75M422.1 327.2h0.75M416.6 325.3h0.75M425.7 332.4h0.75M423.8 321.4h0.75M422.8 327.8h0.75M429.6 328.7h0.75M430.0 333.0h0.75M425.5 331.6h0.75M423.7 332.3h0.75M431.6 329.8h0.75M424.8 328.7h0.75M424.5 333.9h0.75M424.0 333.4h0.75M417.1 324.7h0.75M421.6 331.8h0.75M419.6 331.4h0.75M429.9 326.7h0.75M430.5 323.0h0.75M424.8 333.2h0.75M427.7 330.1h0.75M428.7 321.7h0.75M428.9 328.4h0.75M426.2 317.2h0.75M423.1 333.5h0.75M427.3 328.0h0.75M430.7 333.2h0.75M425.0 332.6h0.75M423.2 332.5h0.75M429.0 325.4h0.75M420.6 334.4h0.75M428.3 325.9h0.75M422.0 317.7h0.75M424.1 326.1h0.75M423.1 321.0h0.75M422.4 332.9h0.75M419.4 323.1h0.75M417.5 327.9h0.75M423.7 332.8h0.75M421.7 326.3h0.75M416.8 324.2h0.75M421.5 318.9h0.75M417.1 331.8h0.75M425.1 330.2h0.75M425.4 332.4h0.75M421.8 334.7h0.75M423.7 328.9h0.75M419.7 323.0h0.75M430.7 329.0h0.75M427.1 332.7h0.75M422.0 331.8h0.75M422.1 333.7h0.75M428.9 333.3h0.75M425.8 319.6h0.75M423.3 329.8h0.75M423.6 328.0h0.75M421.3 331.1h0.75M422.0 317.1h0.75M416.5 332.0h0.75M428.6 325.9h0.75M425.5 330.8h0.75M424.7 335.7h0.75M425.0 333.2h0.75M422.0 326.1h0.75M420.6 330.2h0.75M420.6 325.9h0.75M422.6 335.6h0.75M423.6 333.7h0.75M418.3 331.1h0.75M420.1 327.3h0.75M430.5 340.6h0.75M424.7 322.5h0.75M427.2 327.6h0.75M423.7 328.8h0.75M424.5 333.2h0.75M414.4 328.4h0.75M419.4 323.5h0.75M422.1 333.2h0.75M421.2 332.4h0.75M427.9 324.0h0.75M423.1 318.9h0.75M422.5 317.1h0.75M430.9 332.7h0.75M423.3 330.1h0.75M434.0 331.3h0.75M440.8 333.3h0.75M420.0 332.3h0.75M427.7 321.6h0.75M431.6 325.7h0.75M417.4 320.8h0.75M423.2 332.5h0.75M426.1 323.3h0.75M425.6 333.2h0.75M417.1 330.4h0.75M419.3 318.7h0.75M417.2 328.9h0.75M427.1 329.4h0.75M428.0 342.8h0.75M432.4 327.8h0.75M424.1 326.1h0.75M427.5 325.6h0.75M425.1 331.9h0.75M429.9 327.9h0.75M422.2 324.0h0.75M424.9 328.8h0.75M425.3 333.4h0.75M424.5 332.5h0.75M421.0 332.1h0.75M421.7 322.3h0.75M427.3 333.9h0.75M431.6 332.0h0.75M422.2 321.2h0.75M424.1 330.2h0.75M430.4 328.9h0.75M423.8 333.7h0.75M423.4 334.5h0.75M421.5 325.2h0.75M427.7 328.1h0.75M418.3 336.6h0.75M427.3 331.6h0.75M429.6 330.9h0.75M423.8 331.4h0.75M416.7 328.1h0.75M421.2 325.5h0.75M425.1 322.0h0.75M422.1 330.9h0.75M433.4 323.0h0.75M424.7 324.6h0.75M427.4 329.9h0.75M422.3 328.4h0.75M427.2 329.9h0.75M427.0 328.9h0.75M426.5 327.0h0.75M427.0 327.6h0.75M428.1 325.3h0.75M430.0 325.6h0.75M423.3 328.6h0.75M419.6 332.6h0.75M423.2 325.5h0.75M425.9 333.0h0.75M421.6 322.2h0.75M423.9 332.7h0.75M425.8 329.5h0.75M426.6 321.9h0.75M434.8 338.3h0.75M415.2 327.5h0.75M428.2 333.6h0.75M430.8 332.9h0.75M426.9 331.9h0.75M430.9 335.8h0.75M426.5 327.6h0.75M427.5 319.1h0.75M415.5 325.5h0.75M425.3 334.0h0.75M424.1 328.3h0.75M427.1 330.8h0.75M427.7 327.1h0.75M425.8 328.7h0.75M419.2 330.9h0.75M425.0 325.7h0.75M419.2 325.6h0.75M425.1 324.8h0.75M427.0 320.0h0.75M419.4 327.5h0.75M423.0 339.4h0.75M425.7 328.4h0.75M426.7 342.1h0.75M429.8 333.7h0.75M420.4 316.3h0.75M427.9 333.6h0.75M425.9 333.1h0.75M427.8 327.2h0.75M426.6 332.0h0.75M428.2 333.9h0.75M423.3 323.3h0.75M425.6 332.8h0.75M428.0 331.6h0.75M423.3 329.0h0.75M414.8 310.9h0.75M426.2 320.0h0.75M419.4 325.9h0.75M426.1 331.2h0.75M419.3 333.2h0.75M428.3 330.0h0.75M417.1 332.2h0.75M418.5 329.8h0.75M418.6 327.3h0.75M426.7 331.6h0.75M420.9 328.6h0.75M425.5 329.5h0.75M425.5 330.1h0.75M429.8 327.9h0.75M426.8 314.8h0.75M424.5 328.3h0.75M419.8 333.7h0.75M425.9 326.3h0.75M425.2 332.9h0.75M418.8 321.4h0.75M422.9 331.9h0.75M429.2 332.1h0.75M419.7 312.5h0.75M430.0 332.3h0.75M423.8 331.1h0.75M418.9 328.9h0.75M429.1 318.8h0.75M422.8 322.6h0.75M420.4 331.8h0.75M420.8 325.8h0.75M420.1 333.2h0.75M420.8 318.5h0.75M423.1 333.9h0.75M418.1 333.0h0.75M424.6 324.4h0.75M432.8 327.4h0.75M428.1 325.5h0.75M424.6 332.5h0.75M423.0 325.9h0.75M428.5 330.1h0.75M422.0 327.2h0.75M426.9 322.2h0.75M415.7 335.4h0.75M418.9 325.4h0.75M421.3 325.2h0.75M422.8 321.1h0.75M420.7 328.5h0.75M420.1 333.4h0.75M426.1 333.2h0.75M429.5 328.7h0.75M419.2 337.0h0.75M420.3 331.9h0.75M433.9 332.1h0.75M421.5 332.4h0.75M428.7 327.1h0.75M428.0 325.8h0.75M412.1 326.3h0.75M428.0 332.6h0.75M427.1 340.9h0.75M425.3 324.1h0.75M418.8 322.4h0.75M428.7 330.9h0.75M420.0 328.4h0.75M423.3 330.6h0.75M424.7 331.0h0.75M433.0 332.3h0.75M418.9 327.2h0.75M428.3 327.1h0.75M416.4 322.6h0.75M422.8 329.6h0.75M432.3 332.4h0.75M421.8 325.8h0.75M422.6 320.8h0.75M418.8 333.9h0.75M424.1 338.4h0.75M424.1 326.8h0.75M419.3 332.5h0.75M414.9 325.8h0.75M425.3 332.6h0.75M421.1 321.3h0.75M426.0 321.1h0.75M420.6 321.4h0.75M432.7 333.1h0.75M429.0 330.5h0.75M433.7 332.4h0.75M422.3 333.9h0.75M425.3 331.8h0.75M420.8 323.3h0.75M433.2 327.4h0.75M432.2 330.3h0.75M426.7 308.0h0.75M429.2 322.6h0.75M418.9 333.3h0.75M428.0 328.9h0.75M430.6 330.7h0.75M429.5 331.3h0.75M426.0 331.5h0.75M419.4 333.9h0.75M431.7 331.7h0.75M425.2 316.6h0.75M420.5 328.2h0.75M424.1 333.4h0.75M427.7 329.0h0.75M429.5 326.3h0.75M428.0 331.5h0.75M426.4 326.2h0.75M426.3 321.4h0.75M429.1 325.4h0.75M428.8 322.4h0.75M425.4 332.4h0.75M423.0 328.2h0.75M421.9 319.4h0.75M426.6 331.1h0.75M423.4 321.4h0.75M421.7 317.4h0.75M422.4 328.8h0.75M425.2 330.2h0.75M432.9 319.5h0.75M415.9 333.5h0.75M423.2 325.6h0.75M424.7 331.2h0.75M424.4 330.3h0.75M421.1 320.4h0.75M428.4 332.5h0.75M423.0 330.1h0.75M427.4 326.3h0.75M415.6 332.6h0.75M426.3 330.6h0.75M425.6 329.6h0.75M423.8 314.8h0.75M419.1 332.7h0.75M436.9 330.8h0.75M427.2 321.1h0.75M428.5 323.3h0.75M426.5 322.5h0.75M421.0 328.3h0.75M424.0 329.6h0.75M425.5 326.7h0.75M421.0 337.6h0.75M420.7 319.3h0.75M422.4 332.6h0.75M425.6 333.5h0.75M434.4 333.2h0.75M427.9 327.0h0.75M430.3 329.6h0.75M421.8 330.4h0.75M420.4 330.7h0.75M418.5 337.6h0.75M428.7 330.2h0.75M428.0 327.5h0.75M427.9 339.6h0.75M422.2 322.1h0.75M425.5 331.8h0.75M419.5 329.4h0.75M425.1 320.1h0.75M421.3 333.6h0.75M430.7 324.3h0.75M420.7 323.2h0.75M424.0 330.3h0.75M426.9 326.3h0.75M420.4 318.9h0.75M429.8 322.7h0.75M419.4 325.9h0.75M424.2 323.4h0.75M422.2 318.4h0.75M419.0 329.2h0.75M427.7 327.2h0.75M431.7 333.6h0.75M423.5 330.4h0.75M428.3 333.6h0.75" stroke="#1a1a1a" stroke-width="0.75" fill="none" opacity="1.0" filter="url(#soft)"/>
<path d="M452.3 342.8h0.6M444.0 317.8h0.6M450.7 334.8h0.6M439.8 340.2h0.6M455.5 343.2h0.6M440.1 301.9h0.6M447.6 316.8h0.6M445.0 323.4h0.6M449.6 319.8h0.6M450.5 329.4h0.6M478.9 360.7h0.6M438.5 326.7h0.6M454.7 330.0h0.6M451.5 311.3h0.6M449.0 333.5h0.6M446.6 334.0h0.6M449.8 330.1h0.6M449.6 322.8h0.6M458.1 339.0h0.6M442.4 337.2h0.6M444.7 333.8h0.6M460.9 326.6h0.6M443.0 335.1h0.6M444.7 341.3h0.6M442.0 333.4h0.6M450.6 351.3h0.6M456.5 341.1h0.6M465.9 355.1h0.6M439.7 343.4h0.6M450.8 347.1h0.6M466.4 321.4h0.6M438.4 323.6h0.6M443.6 308.6h0.6M438.4 325.6h0.6M442.4 340.7h0.6M439.5 338.7h0.6M444.5 315.8h0.6M452.5 341.1h0.6M438.8 331.5h0.6M443.4 318.1h0.6M447.1 321.4h0.6M456.3 330.1h0.6M439.8 338.1h0.6M450.0 318.5h0.6M451.0 331.6h0.6M448.4 304.5h0.6M462.3 342.0h0.6M458.8 320.9h0.6" stroke="#a8a8a8" stroke-width="0.6" fill="none" opacity="1.0"/>
<path d="M437.5 250.6V366.25" stroke="#222" stroke-width="0.9" fill="none"/>
<path d="M410.7 339.3H518.4" stroke="#222" stroke-width="1.3" fill="none"/>
<text x="411.2" y="261.2" font-family="Liberation Sans, sans-serif" font-size="9.3" fill="#1a1a1a" stroke="#1a1a1a" stroke-width="0.18" textLength="7.6" lengthAdjust="spacingAndGlyphs">C1</text>
<text x="413.0" y="271.8" font-family="Liberation Sans, sans-serif" font-size="9.3" fill="#1a1a1a" stroke="#1a1a1a" stroke-width="0.18" textLength="21.3" lengthAdjust="spacingAndGlyphs">97.0%</text>
<text x="438.0" y="261.2" font-family="Liberation Sans, sans-serif" font-size="9.3" fill="#1a1a1a" stroke="#1a1a1a" stroke-width="0.18" textLength="7.9" lengthAdjust="spacingAndGlyphs">C2</text>
<text x="442.4" y="271.8" font-family="Liberation Sans, sans-serif" font-size="9.3" fill="#1a1a1a" stroke="#1a1a1a" stroke-width="0.18" textLength="17.2" lengthAdjust="spacingAndGlyphs">0.9%</text>
<text x="411.2" y="349.5" font-family="Liberation Sans, sans-serif" font-size="9.3" fill="#1a1a1a" stroke="#1a1a1a" stroke-width="0.18" textLength="8.5" lengthAdjust="spacingAndGlyphs">C3</text>
<text x="416.2" y="360.1" font-family="Liberation Sans, sans-serif" font-size="9.3" fill="#1a1a1a" stroke="#1a1a1a" stroke-width="0.18" textLength="15.8" lengthAdjust="spacingAndGlyphs">1.9%</text>
<text x="438.0" y="349.5" font-family="Liberation Sans, sans-serif" font-size="9.3" fill="#1a1a1a" stroke="#1a1a1a" stroke-width="0.18" textLength="8.2" lengthAdjust="spacingAndGlyphs">C4</text>
<text x="442.4" y="360.1" font-family="Liberation Sans, sans-serif" font-size="9.3" fill="#1a1a1a" stroke="#1a1a1a" stroke-width="0.18" textLength="17.2" lengthAdjust="spacingAndGlyphs">0.2%</text>
<text x="397.2" y="253.0" font-family="Liberation Sans, sans-serif" font-size="6.3" fill="#4a4a4a" textLength="7.0056" lengthAdjust="spacingAndGlyphs">10</text>
<text x="404.31" y="250.50" font-family="Liberation Sans, sans-serif" font-size="4.1" fill="#4a4a4a">3</text>
<text x="397.2" y="282.4" font-family="Liberation Sans, sans-serif" font-size="6.3" fill="#4a4a4a" textLength="7.0056" lengthAdjust="spacingAndGlyphs">10</text>
<text x="404.31" y="279.90" font-family="Liberation Sans, sans-serif" font-size="4.1" fill="#4a4a4a">2</text>
<text x="397.2" y="310.6" font-family="Liberation Sans, sans-serif" font-size="6.3" fill="#4a4a4a" textLength="7.0056" lengthAdjust="spacingAndGlyphs">10</text>
<text x="404.31" y="308.10" font-family="Liberation Sans, sans-serif" font-size="4.1" fill="#4a4a4a">1</text>
<text x="397.2" y="339.6" font-family="Liberation Sans, sans-serif" font-size="6.3" fill="#4a4a4a" textLength="7.0056" lengthAdjust="spacingAndGlyphs">10</text>
<text x="404.31" y="337.10" font-family="Liberation Sans, sans-serif" font-size="4.1" fill="#4a4a4a">0</text>
<text x="435.4" y="375.2" font-family="Liberation Sans, sans-serif" font-size="5.6" fill="#666" textLength="6.2272" lengthAdjust="spacingAndGlyphs">10</text>
<text x="441.73" y="373.20" font-family="Liberation Sans, sans-serif" font-size="3.8" fill="#666">0</text>
<text x="463.5" y="375.2" font-family="Liberation Sans, sans-serif" font-size="5.6" fill="#666" textLength="6.2272" lengthAdjust="spacingAndGlyphs">10</text>
<text x="469.83" y="373.20" font-family="Liberation Sans, sans-serif" font-size="3.8" fill="#666">1</text>
<text x="489.4" y="375.2" font-family="Liberation Sans, sans-serif" font-size="5.6" fill="#666" textLength="6.2272" lengthAdjust="spacingAndGlyphs">10</text>
<text x="495.73" y="373.20" font-family="Liberation Sans, sans-serif" font-size="3.8" fill="#666">2</text>
<text x="511.0" y="375.2" font-family="Liberation Sans, sans-serif" font-size="5.6" fill="#666" textLength="6.2272" lengthAdjust="spacingAndGlyphs">10</text>
<text x="517.33" y="373.20" font-family="Liberation Sans, sans-serif" font-size="3.8" fill="#666">3</text>
<text transform="translate(386 301.2) rotate(-90)" font-family="Liberation Sans, sans-serif" font-size="18.2" font-weight="bold" text-anchor="middle" fill="#000">IgM</text>
<text x="467.5" y="402.8" font-family="Liberation Sans, sans-serif" font-size="17.8" font-weight="bold" text-anchor="middle" fill="#000" textLength="29" lengthAdjust="spacingAndGlyphs">IgD</text>
<path d="M460.6 386.6q1-1.2 2.2-.6M464.4 385.6q1.8-1.2 3.6 0" stroke="#aaa" stroke-width="0.6" fill="none"/>
</g>
<g id="panelE">
<text x="0.4" y="449.7" font-family="Liberation Sans, sans-serif" font-size="24.8" font-weight="bold" fill="#000" stroke="#000" stroke-width="0.3" textLength="15.5" lengthAdjust="spacingAndGlyphs">E</text>
<path d="M118.75 437.0V589.0H346.25M113.75 589.00H118.75M113.75 551.12H118.75M113.75 513.25H118.75M113.75 475.38H118.75M113.75 437.50H118.75M118.75 589.0V593.3M141.45 589.0V593.3M164.15 589.0V593.3M186.85 589.0V593.3M209.55 589.0V593.3M232.25 589.0V593.3M254.95 589.0V593.3M277.65 589.0V593.3M300.35 589.0V593.3M323.05 589.0V593.3M345.75 589.0V593.3" stroke="#111" stroke-width="1.1" fill="none"/>
<text x="113" y="593.40" font-family="Liberation Sans, sans-serif" font-size="12.4" text-anchor="end" fill="#222">0</text>
<text x="113" y="555.52" font-family="Liberation Sans, sans-serif" font-size="12.4" text-anchor="end" fill="#222">25</text>
<text x="113" y="517.65" font-family="Liberation Sans, sans-serif" font-size="12.4" text-anchor="end" fill="#222">50</text>
<text x="113" y="479.77" font-family="Liberation Sans, sans-serif" font-size="12.4" text-anchor="end" fill="#222">75</text>
<text x="113" y="441.90" font-family="Liberation Sans, sans-serif" font-size="12.4" text-anchor="end" fill="#222">100</text>
<text x="118.75" y="606.1" font-family="Liberation Sans, sans-serif" font-size="12.4" text-anchor="middle" fill="#222">0</text>
<text x="141.45" y="606.1" font-family="Liberation Sans, sans-serif" font-size="12.4" text-anchor="middle" fill="#222">2</text>
<text x="164.15" y="606.1" font-family="Liberation Sans, sans-serif" font-size="12.4" text-anchor="middle" fill="#222">4</text>
<text x="186.85" y="606.1" font-family="Liberation Sans, sans-serif" font-size="12.4" text-anchor="middle" fill="#222">6</text>
<text x="209.55" y="606.1" font-family="Liberation Sans, sans-serif" font-size="12.4" text-anchor="middle" fill="#222">8</text>
<text x="232.25" y="606.1" font-family="Liberation Sans, sans-serif" font-size="12.4" text-anchor="middle" fill="#222">10</text>
<text x="254.95" y="606.1" font-family="Liberation Sans, sans-serif" font-size="12.4" text-anchor="middle" fill="#222">12</text>
<text x="277.65" y="606.1" font-family="Liberation Sans, sans-serif" font-size="12.4" text-anchor="middle" fill="#222">14</text>
<text x="300.35" y="606.1" font-family="Liberation Sans, sans-serif" font-size="12.4" text-anchor="middle" fill="#222">16</text>
<text x="323.05" y="606.1" font-family="Liberation Sans, sans-serif" font-size="12.4" text-anchor="middle" fill="#222">18</text>
<text x="345.75" y="606.1" font-family="Liberation Sans, sans-serif" font-size="12.4" text-anchor="middle" fill="#222">20</text>
<text x="232.8" y="624.3" font-family="Liberation Sans, sans-serif" font-size="12.5" text-anchor="middle" fill="#222">age (months)</text>
<text transform="translate(80.8 512.5) rotate(-90)" font-family="Liberation Sans, sans-serif" font-size="12.7" text-anchor="middle" fill="#222">% Surviving animals</text>
<text x="126.3" y="579" font-family="Liberation Sans, sans-serif" font-size="4.1" font-weight="bold" fill="#333">P = .0001</text>
<path d="M254.95 580.09H266.30V589.00" stroke="#9a9a9a" stroke-width="1" fill="none"/>
<path d="M118.75 437.5H152.80V455.32H175.50V473.15H198.20V499.88H209.55V517.71H220.90V544.44H232.25V562.26H254.95V580.09" stroke="#111" stroke-width="1.15" fill="none"/>
<path d="M149.65 455.32L152.80 452.17L155.95 455.32L152.80 458.47Z" fill="#fff" stroke="#111" stroke-width="1.9"/>
<path d="M172.35 473.15L175.50 470.00L178.65 473.15L175.50 476.30Z" fill="#fff" stroke="#111" stroke-width="1.9"/>
<path d="M195.05 499.88L198.20 496.73L201.35 499.88L198.20 503.03Z" fill="#fff" stroke="#111" stroke-width="1.9"/>
<path d="M206.40 517.71L209.55 514.56L212.70 517.71L209.55 520.86Z" fill="#fff" stroke="#111" stroke-width="1.9"/>
<path d="M217.75 544.44L220.90 541.29L224.05 544.44L220.90 547.59Z" fill="#fff" stroke="#111" stroke-width="1.9"/>
<path d="M229.10 562.26L232.25 559.11L235.40 562.26L232.25 565.41Z" fill="#fff" stroke="#111" stroke-width="1.9"/>
<path d="M251.80 580.09L254.95 576.94L258.10 580.09L254.95 583.24Z" fill="#fff" stroke="#111" stroke-width="1.9"/>
<path d="M263.15 589.00L266.30 585.85L269.45 589.00L266.30 592.15Z" fill="#fff" stroke="#111" stroke-width="1.9"/>
<path d="M300.35 580.09H311.70V589.00" stroke="#9a9a9a" stroke-width="1" fill="none"/>
<path d="M118.75 437.5H220.90V446.41H232.25V455.32H243.60V499.88H254.95V508.79H266.30V535.53H277.65V562.26H300.35V580.09" stroke="#111" stroke-width="1.15" fill="none"/>
<path d="M217.80 446.41L220.90 443.31L224.00 446.41L220.90 449.51Z" fill="#111"/>
<path d="M229.15 455.32L232.25 452.22L235.35 455.32L232.25 458.42Z" fill="#111"/>
<path d="M240.50 499.88L243.60 496.78L246.70 499.88L243.60 502.98Z" fill="#111"/>
<path d="M251.85 508.79L254.95 505.69L258.05 508.79L254.95 511.89Z" fill="#111"/>
<path d="M263.20 535.53L266.30 532.43L269.40 535.53L266.30 538.63Z" fill="#111"/>
<path d="M274.55 562.26L277.65 559.16L280.75 562.26L277.65 565.36Z" fill="#111"/>
<path d="M297.25 580.09L300.35 576.99L303.45 580.09L300.35 583.19Z" fill="#111"/>
<path d="M308.60 589.00L311.70 585.90L314.80 589.00L311.70 592.10Z" fill="#111"/>
<path d="M263.75 441.25H285M263.75 462.5H285" stroke="#111" stroke-width="1.1" fill="none"/>
<path d="M271.15000000000003 441.25L274.3 438.1L277.45 441.25L274.3 444.4Z" fill="#fff" stroke="#111" stroke-width="1.9"/>
<path d="M271.2 462.5L274.3 459.4L277.40000000000003 462.5L274.3 465.6Z" fill="#111"/>
<text y="447" font-family="Liberation Sans, sans-serif" font-size="12.6" fill="#222"><tspan x="289.3">H</tspan><tspan x="298.6" dy="-5.6" font-size="9.8">-/-</tspan><tspan x="312.4" dy="5.6" font-size="14">/</tspan><tspan x="319.8" font-size="12.6">T</tspan><tspan x="328.4" dy="-5.6" font-size="9.8">tg/wt</tspan></text>
<text y="468.2" font-family="Liberation Sans, sans-serif" font-size="12.6" fill="#222"><tspan x="289.3">H</tspan><tspan x="298.6" dy="-5.6" font-size="9.8" textLength="24" lengthAdjust="spacingAndGlyphs">wt/wt</tspan><tspan x="326.2" dy="5.6" font-size="14">/</tspan><tspan x="334.2" font-size="12.6">T</tspan><tspan x="343" dy="-5.6" font-size="9.8">tg/wt</tspan></text>
</g>
</svg></body></html>
